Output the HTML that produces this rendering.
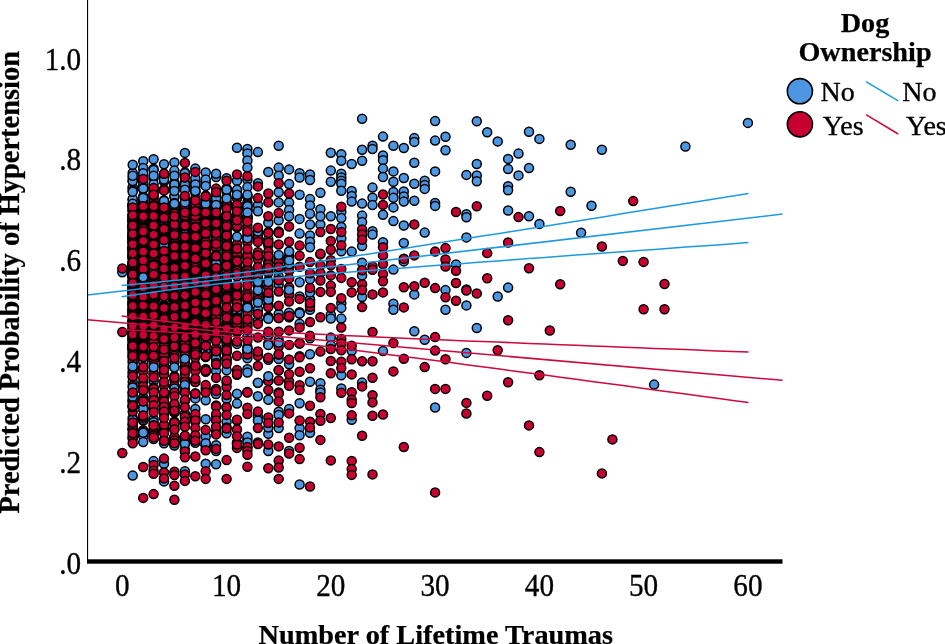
<!DOCTYPE html>
<html lang="en"><head><meta charset="utf-8"><title>Dog Ownership</title>
<style>
html,body{margin:0;padding:0;background:#fff;}
body{width:945px;height:644px;overflow:hidden;font-family:"Liberation Serif","Times New Roman",serif;}
svg{display:block;}
svg text{font-family:"Liberation Serif","Times New Roman",serif;fill:#000;stroke:#000;stroke-width:.35px;}
svg .b text,svg text.b{stroke-width:.25px;}
</style></head><body>
<svg width="945" height="644" viewBox="0 0 945 644">
<rect width="945" height="644" fill="#fff"/>
<g font-size="30.6"><text transform="translate(81.2,574.2) scale(0.955,1)" text-anchor="end">.0</text><text transform="translate(81.2,473.3) scale(0.955,1)" text-anchor="end">.2</text><text transform="translate(81.2,372.3) scale(0.955,1)" text-anchor="end">.4</text><text transform="translate(81.2,271.4) scale(0.955,1)" text-anchor="end">.6</text><text transform="translate(81.2,170.4) scale(0.955,1)" text-anchor="end">.8</text><text transform="translate(81.2,69.5) scale(0.955,1)" text-anchor="end">1.0</text><text transform="translate(122.3,595.5) scale(0.955,1)" text-anchor="middle">0</text><text transform="translate(226.6,595.5) scale(0.955,1)" text-anchor="middle">10</text><text transform="translate(330.8,595.5) scale(0.955,1)" text-anchor="middle">20</text><text transform="translate(435.1,595.5) scale(0.955,1)" text-anchor="middle">30</text><text transform="translate(539.4,595.5) scale(0.955,1)" text-anchor="middle">40</text><text transform="translate(643.6,595.5) scale(0.955,1)" text-anchor="middle">50</text><text transform="translate(747.9,595.5) scale(0.955,1)" text-anchor="middle">60</text></g>
<text transform="translate(18.9,282.3) rotate(-90)" text-anchor="middle" class="b" font-size="28.45" font-weight="bold">Predicted Probability of Hypertension</text>
<text x="435.8" y="643.5" text-anchor="middle" class="b" font-size="28.3" font-weight="bold">Number of Lifetime Traumas</text>
<g fill="#4d96e2" stroke="#000" stroke-width="1.5">
<g transform="translate(132.7)"><circle cy="437.7" r="4.5"/><circle cy="429.4" r="4.5"/><circle cy="400.7" r="4.5"/><circle cy="256.0" r="4.5"/><circle cy="276.4" r="4.5"/><circle cy="345.6" r="4.5"/><circle cy="258.5" r="4.5"/><circle cy="266.5" r="4.5"/><circle cy="281.6" r="4.5"/><circle cy="205.1" r="4.5"/><circle cy="267.3" r="4.5"/><circle cy="289.7" r="4.5"/><circle cy="320.7" r="4.5"/><circle cy="187.9" r="4.5"/><circle cy="227.6" r="4.5"/><circle cy="187.2" r="4.5"/><circle cy="323.8" r="4.5"/><circle cy="301.8" r="4.5"/><circle cy="178.0" r="4.5"/><circle cy="356.6" r="4.5"/><circle cy="353.3" r="4.5"/><circle cy="294.2" r="4.5"/><circle cy="287.0" r="4.5"/><circle cy="199.9" r="4.5"/><circle cy="172.9" r="4.5"/><circle cy="270.4" r="4.5"/><circle cy="181.3" r="4.5"/><circle cy="377.1" r="4.5"/><circle cy="381.8" r="4.5"/><circle cy="362.7" r="4.5"/><circle cy="401.8" r="4.5"/><circle cy="399.6" r="4.5"/><circle cy="435.8" r="4.5"/><circle cy="406.7" r="4.5"/><circle cy="417.6" r="4.5"/><circle cy="405.0" r="4.5"/><circle cy="419.6" r="4.5"/><circle cy="181.0" r="4.5"/><circle cy="199.0" r="4.5"/><circle cy="204.4" r="4.5" fill="#c80032"/><circle cy="204.7" r="4.5" fill="#c80032"/><circle cy="205.0" r="4.5"/><circle cy="206.1" r="4.5" fill="#c80032"/><circle cy="207.5" r="4.5" fill="#c80032"/><circle cy="210.0" r="4.5" fill="#c80032"/><circle cy="210.0" r="4.5" fill="#c80032"/><circle cy="211.8" r="4.5" fill="#c80032"/><circle cy="214.8" r="4.5" fill="#c80032"/><circle cy="214.9" r="4.5" fill="#c80032"/><circle cy="216.1" r="4.5" fill="#c80032"/><circle cy="216.1" r="4.5" fill="#c80032"/><circle cy="218.7" r="4.5" fill="#c80032"/><circle cy="218.8" r="4.5" fill="#c80032"/><circle cy="218.9" r="4.5"/><circle cy="220.1" r="4.5" fill="#c80032"/><circle cy="220.7" r="4.5" fill="#c80032"/><circle cy="220.9" r="4.5" fill="#c80032"/><circle cy="221.0" r="4.5" fill="#c80032"/><circle cy="221.1" r="4.5" fill="#c80032"/><circle cy="221.3" r="4.5" fill="#c80032"/><circle cy="224.0" r="4.5" fill="#c80032"/><circle cy="224.3" r="4.5" fill="#c80032"/><circle cy="224.5" r="4.5" fill="#c80032"/><circle cy="225.9" r="4.5" fill="#c80032"/><circle cy="226.0" r="4.5" fill="#c80032"/><circle cy="226.2" r="4.5" fill="#c80032"/><circle cy="227.3" r="4.5" fill="#c80032"/><circle cy="227.6" r="4.5"/><circle cy="227.7" r="4.5" fill="#c80032"/><circle cy="227.9" r="4.5" fill="#c80032"/><circle cy="228.3" r="4.5" fill="#c80032"/><circle cy="230.7" r="4.5" fill="#c80032"/><circle cy="231.4" r="4.5" fill="#c80032"/><circle cy="231.5" r="4.5" fill="#c80032"/><circle cy="233.4" r="4.5" fill="#c80032"/><circle cy="233.6" r="4.5" fill="#c80032"/><circle cy="234.6" r="4.5" fill="#c80032"/><circle cy="234.8" r="4.5" fill="#c80032"/><circle cy="236.4" r="4.5" fill="#c80032"/><circle cy="236.9" r="4.5"/><circle cy="236.9" r="4.5" fill="#c80032"/><circle cy="237.1" r="4.5" fill="#c80032"/><circle cy="237.3" r="4.5" fill="#c80032"/><circle cy="238.0" r="4.5" fill="#c80032"/><circle cy="238.2" r="4.5" fill="#c80032"/><circle cy="238.2" r="4.5" fill="#c80032"/><circle cy="238.9" r="4.5" fill="#c80032"/><circle cy="239.6" r="4.5" fill="#c80032"/><circle cy="241.5" r="4.5" fill="#c80032"/><circle cy="241.5" r="4.5" fill="#c80032"/><circle cy="242.0" r="4.5"/><circle cy="242.1" r="4.5" fill="#c80032"/><circle cy="242.8" r="4.5" fill="#c80032"/><circle cy="243.1" r="4.5" fill="#c80032"/><circle cy="246.2" r="4.5" fill="#c80032"/><circle cy="247.1" r="4.5" fill="#c80032"/><circle cy="247.2" r="4.5"/><circle cy="247.2" r="4.5" fill="#c80032"/><circle cy="248.1" r="4.5" fill="#c80032"/><circle cy="248.1" r="4.5" fill="#c80032"/><circle cy="248.6" r="4.5" fill="#c80032"/><circle cy="248.9" r="4.5" fill="#c80032"/><circle cy="249.0" r="4.5" fill="#c80032"/><circle cy="250.0" r="4.5" fill="#c80032"/><circle cy="251.1" r="4.5" fill="#c80032"/><circle cy="252.3" r="4.5" fill="#c80032"/><circle cy="252.6" r="4.5" fill="#c80032"/><circle cy="254.4" r="4.5" fill="#c80032"/><circle cy="254.8" r="4.5" fill="#c80032"/><circle cy="256.3" r="4.5" fill="#c80032"/><circle cy="257.1" r="4.5" fill="#c80032"/><circle cy="257.7" r="4.5" fill="#c80032"/><circle cy="257.8" r="4.5" fill="#c80032"/><circle cy="261.7" r="4.5" fill="#c80032"/><circle cy="262.7" r="4.5" fill="#c80032"/><circle cy="263.7" r="4.5" fill="#c80032"/><circle cy="264.1" r="4.5" fill="#c80032"/><circle cy="264.2" r="4.5" fill="#c80032"/><circle cy="264.2" r="4.5" fill="#c80032"/><circle cy="264.7" r="4.5" fill="#c80032"/><circle cy="265.7" r="4.5" fill="#c80032"/><circle cy="266.4" r="4.5" fill="#c80032"/><circle cy="266.6" r="4.5"/><circle cy="266.9" r="4.5" fill="#c80032"/><circle cy="267.1" r="4.5" fill="#c80032"/><circle cy="268.9" r="4.5" fill="#c80032"/><circle cy="269.3" r="4.5" fill="#c80032"/><circle cy="269.6" r="4.5" fill="#c80032"/><circle cy="269.8" r="4.5" fill="#c80032"/><circle cy="271.1" r="4.5" fill="#c80032"/><circle cy="272.7" r="4.5" fill="#c80032"/><circle cy="273.4" r="4.5" fill="#c80032"/><circle cy="273.5" r="4.5" fill="#c80032"/><circle cy="274.9" r="4.5" fill="#c80032"/><circle cy="275.8" r="4.5" fill="#c80032"/><circle cy="276.1" r="4.5" fill="#c80032"/><circle cy="276.5" r="4.5" fill="#c80032"/><circle cy="276.7" r="4.5" fill="#c80032"/><circle cy="277.5" r="4.5" fill="#c80032"/><circle cy="277.8" r="4.5" fill="#c80032"/><circle cy="280.9" r="4.5" fill="#c80032"/><circle cy="280.9" r="4.5"/><circle cy="282.5" r="4.5"/><circle cy="283.5" r="4.5" fill="#c80032"/><circle cy="283.7" r="4.5" fill="#c80032"/><circle cy="283.8" r="4.5" fill="#c80032"/><circle cy="284.2" r="4.5"/><circle cy="285.6" r="4.5" fill="#c80032"/><circle cy="285.7" r="4.5"/><circle cy="286.5" r="4.5" fill="#c80032"/><circle cy="287.2" r="4.5" fill="#c80032"/><circle cy="288.5" r="4.5" fill="#c80032"/><circle cy="289.4" r="4.5" fill="#c80032"/><circle cy="289.9" r="4.5" fill="#c80032"/><circle cy="289.9" r="4.5" fill="#c80032"/><circle cy="290.9" r="4.5" fill="#c80032"/><circle cy="291.1" r="4.5" fill="#c80032"/><circle cy="292.0" r="4.5" fill="#c80032"/><circle cy="292.8" r="4.5" fill="#c80032"/><circle cy="293.1" r="4.5" fill="#c80032"/><circle cy="295.0" r="4.5"/><circle cy="297.0" r="4.5" fill="#c80032"/><circle cy="297.1" r="4.5" fill="#c80032"/><circle cy="297.9" r="4.5" fill="#c80032"/><circle cy="298.3" r="4.5" fill="#c80032"/><circle cy="299.9" r="4.5" fill="#c80032"/><circle cy="302.1" r="4.5" fill="#c80032"/><circle cy="302.9" r="4.5" fill="#c80032"/><circle cy="303.9" r="4.5" fill="#c80032"/><circle cy="304.7" r="4.5" fill="#c80032"/><circle cy="304.9" r="4.5" fill="#c80032"/><circle cy="307.9" r="4.5" fill="#c80032"/><circle cy="308.5" r="4.5" fill="#c80032"/><circle cy="308.8" r="4.5" fill="#c80032"/><circle cy="310.3" r="4.5" fill="#c80032"/><circle cy="310.4" r="4.5" fill="#c80032"/><circle cy="311.0" r="4.5" fill="#c80032"/><circle cy="311.5" r="4.5"/><circle cy="312.8" r="4.5"/><circle cy="314.0" r="4.5" fill="#c80032"/><circle cy="314.3" r="4.5" fill="#c80032"/><circle cy="314.4" r="4.5" fill="#c80032"/><circle cy="315.0" r="4.5" fill="#c80032"/><circle cy="316.4" r="4.5" fill="#c80032"/><circle cy="318.6" r="4.5" fill="#c80032"/><circle cy="320.9" r="4.5"/><circle cy="321.1" r="4.5" fill="#c80032"/><circle cy="321.4" r="4.5" fill="#c80032"/><circle cy="322.2" r="4.5" fill="#c80032"/><circle cy="323.6" r="4.5" fill="#c80032"/><circle cy="323.9" r="4.5" fill="#c80032"/><circle cy="325.3" r="4.5" fill="#c80032"/><circle cy="325.5" r="4.5" fill="#c80032"/><circle cy="328.2" r="4.5" fill="#c80032"/><circle cy="328.8" r="4.5" fill="#c80032"/><circle cy="329.4" r="4.5" fill="#c80032"/><circle cy="330.1" r="4.5"/><circle cy="332.8" r="4.5" fill="#c80032"/><circle cy="333.2" r="4.5" fill="#c80032"/><circle cy="333.8" r="4.5" fill="#c80032"/><circle cy="334.7" r="4.5"/><circle cy="335.3" r="4.5" fill="#c80032"/><circle cy="337.8" r="4.5" fill="#c80032"/><circle cy="338.0" r="4.5" fill="#c80032"/><circle cy="338.1" r="4.5" fill="#c80032"/><circle cy="339.6" r="4.5" fill="#c80032"/><circle cy="340.2" r="4.5" fill="#c80032"/><circle cy="340.4" r="4.5" fill="#c80032"/><circle cy="342.7" r="4.5" fill="#c80032"/><circle cy="344.2" r="4.5"/><circle cy="344.5" r="4.5" fill="#c80032"/><circle cy="345.7" r="4.5" fill="#c80032"/><circle cy="346.2" r="4.5" fill="#c80032"/><circle cy="346.4" r="4.5" fill="#c80032"/><circle cy="346.5" r="4.5" fill="#c80032"/><circle cy="346.9" r="4.5" fill="#c80032"/><circle cy="347.8" r="4.5" fill="#c80032"/><circle cy="348.4" r="4.5" fill="#c80032"/><circle cy="349.3" r="4.5" fill="#c80032"/><circle cy="349.6" r="4.5" fill="#c80032"/><circle cy="351.0" r="4.5" fill="#c80032"/><circle cy="353.9" r="4.5" fill="#c80032"/><circle cy="357.4" r="4.5" fill="#c80032"/><circle cy="360.6" r="4.5" fill="#c80032"/><circle cy="368.5" r="4.5" fill="#c80032"/><circle cy="371.7" r="4.5" fill="#c80032"/><circle cy="373.7" r="4.5" fill="#c80032"/><circle cy="391.9" r="4.5" fill="#c80032"/><circle cy="394.2" r="4.5" fill="#c80032"/><circle cy="396.7" r="4.5"/><circle cy="411.6" r="4.5" fill="#c80032"/><circle cy="424.6" r="4.5" fill="#c80032"/><circle cy="428.9" r="4.5" fill="#c80032"/><circle cy="429.1" r="4.5" fill="#c80032"/><circle cy="438.6" r="4.5" fill="#c80032"/><circle cy="190.6" r="4.5" fill="#c80032"/><circle cy="274.4" r="4.5" fill="#c80032"/><circle cy="376.2" r="4.5" fill="#c80032"/><circle cy="206.0" r="4.5" fill="#c80032"/><circle cy="294.9" r="4.5" fill="#c80032"/><circle cy="407.0" r="4.5" fill="#c80032"/><circle cy="443.3" r="4.5" fill="#c80032"/><circle cy="366.4" r="4.5"/><circle cy="216.9" r="4.5" fill="#c80032"/><circle cy="356.0" r="4.5" fill="#c80032"/><circle cy="425.3" r="4.5" fill="#c80032"/><circle cy="334.6" r="4.5" fill="#c80032"/><circle cy="225.6" r="4.5" fill="#c80032"/><circle cy="346.0" r="4.5" fill="#c80032"/><circle cy="262.4" r="4.5" fill="#c80032"/><circle cy="385.6" r="4.5" fill="#c80032"/><circle cy="316.2" r="4.5" fill="#c80032"/><circle cy="306.1" r="4.5" fill="#c80032"/><circle cy="244.3" r="4.5" fill="#c80032"/><circle cy="326.1" r="4.5" fill="#c80032"/><circle cy="253.3" r="4.5" fill="#c80032"/><circle cy="234.1" r="4.5" fill="#c80032"/><circle cy="387.6" r="4.5"/><circle cy="283.1" r="4.5" fill="#c80032"/><circle cy="475.6" r="4.5"/><circle cy="164.8" r="4.5"/><circle cy="175.7" r="4.5"/><circle cy="191.7" r="4.5"/><circle cy="203.7" r="4.5"/><circle cy="392.5" r="4.5" fill="#c80032"/><circle cy="405.7" r="4.5" fill="#c80032"/><circle cy="422.5" r="4.5" fill="#c80032"/><circle cy="433.2" r="4.5" fill="#c80032"/><circle cy="207.5" r="4.5" fill="#c80032"/><circle cy="215.1" r="4.5" fill="#c80032"/></g>
<g transform="translate(143.2)"><circle cy="434.4" r="4.5"/><circle cy="420.5" r="4.5"/><circle cy="407.8" r="4.5"/><circle cy="397.6" r="4.5"/><circle cy="341.1" r="4.5"/><circle cy="175.6" r="4.5"/><circle cy="219.0" r="4.5"/><circle cy="352.5" r="4.5"/><circle cy="224.0" r="4.5"/><circle cy="207.9" r="4.5"/><circle cy="244.8" r="4.5"/><circle cy="201.3" r="4.5"/><circle cy="180.9" r="4.5"/><circle cy="265.9" r="4.5"/><circle cy="262.5" r="4.5"/><circle cy="207.4" r="4.5"/><circle cy="189.2" r="4.5"/><circle cy="242.7" r="4.5"/><circle cy="277.5" r="4.5"/><circle cy="188.3" r="4.5"/><circle cy="187.0" r="4.5"/><circle cy="212.0" r="4.5"/><circle cy="252.1" r="4.5"/><circle cy="263.9" r="4.5"/><circle cy="313.7" r="4.5"/><circle cy="291.7" r="4.5"/><circle cy="168.1" r="4.5"/><circle cy="216.2" r="4.5"/><circle cy="219.5" r="4.5"/><circle cy="390.7" r="4.5"/><circle cy="408.6" r="4.5"/><circle cy="397.4" r="4.5"/><circle cy="406.9" r="4.5"/><circle cy="436.2" r="4.5"/><circle cy="369.0" r="4.5"/><circle cy="400.0" r="4.5"/><circle cy="418.0" r="4.5"/><circle cy="409.4" r="4.5"/><circle cy="420.2" r="4.5"/><circle cy="184.8" r="4.5"/><circle cy="196.5" r="4.5"/><circle cy="204.8" r="4.5"/><circle cy="204.5" r="4.5" fill="#c80032"/><circle cy="205.2" r="4.5" fill="#c80032"/><circle cy="205.7" r="4.5" fill="#c80032"/><circle cy="206.1" r="4.5" fill="#c80032"/><circle cy="206.7" r="4.5" fill="#c80032"/><circle cy="206.9" r="4.5" fill="#c80032"/><circle cy="207.8" r="4.5" fill="#c80032"/><circle cy="207.8" r="4.5" fill="#c80032"/><circle cy="208.5" r="4.5" fill="#c80032"/><circle cy="208.9" r="4.5" fill="#c80032"/><circle cy="208.9" r="4.5" fill="#c80032"/><circle cy="209.3" r="4.5" fill="#c80032"/><circle cy="210.3" r="4.5" fill="#c80032"/><circle cy="211.5" r="4.5" fill="#c80032"/><circle cy="212.5" r="4.5" fill="#c80032"/><circle cy="213.6" r="4.5"/><circle cy="213.7" r="4.5" fill="#c80032"/><circle cy="215.5" r="4.5" fill="#c80032"/><circle cy="218.0" r="4.5" fill="#c80032"/><circle cy="218.9" r="4.5"/><circle cy="219.3" r="4.5"/><circle cy="220.9" r="4.5" fill="#c80032"/><circle cy="221.0" r="4.5" fill="#c80032"/><circle cy="221.1" r="4.5" fill="#c80032"/><circle cy="221.8" r="4.5" fill="#c80032"/><circle cy="222.7" r="4.5" fill="#c80032"/><circle cy="223.7" r="4.5" fill="#c80032"/><circle cy="223.9" r="4.5" fill="#c80032"/><circle cy="224.0" r="4.5" fill="#c80032"/><circle cy="224.5" r="4.5" fill="#c80032"/><circle cy="225.0" r="4.5" fill="#c80032"/><circle cy="225.3" r="4.5" fill="#c80032"/><circle cy="226.3" r="4.5" fill="#c80032"/><circle cy="226.4" r="4.5" fill="#c80032"/><circle cy="226.7" r="4.5" fill="#c80032"/><circle cy="227.2" r="4.5" fill="#c80032"/><circle cy="227.4" r="4.5" fill="#c80032"/><circle cy="228.1" r="4.5"/><circle cy="228.3" r="4.5"/><circle cy="228.4" r="4.5" fill="#c80032"/><circle cy="228.6" r="4.5" fill="#c80032"/><circle cy="230.5" r="4.5" fill="#c80032"/><circle cy="230.7" r="4.5" fill="#c80032"/><circle cy="231.2" r="4.5" fill="#c80032"/><circle cy="231.5" r="4.5" fill="#c80032"/><circle cy="231.6" r="4.5" fill="#c80032"/><circle cy="232.9" r="4.5" fill="#c80032"/><circle cy="234.2" r="4.5" fill="#c80032"/><circle cy="235.4" r="4.5" fill="#c80032"/><circle cy="236.4" r="4.5" fill="#c80032"/><circle cy="236.5" r="4.5" fill="#c80032"/><circle cy="237.9" r="4.5" fill="#c80032"/><circle cy="238.2" r="4.5" fill="#c80032"/><circle cy="239.5" r="4.5" fill="#c80032"/><circle cy="240.4" r="4.5" fill="#c80032"/><circle cy="240.8" r="4.5" fill="#c80032"/><circle cy="241.4" r="4.5" fill="#c80032"/><circle cy="242.1" r="4.5" fill="#c80032"/><circle cy="242.6" r="4.5" fill="#c80032"/><circle cy="242.6" r="4.5" fill="#c80032"/><circle cy="244.4" r="4.5" fill="#c80032"/><circle cy="245.3" r="4.5" fill="#c80032"/><circle cy="246.4" r="4.5" fill="#c80032"/><circle cy="248.1" r="4.5" fill="#c80032"/><circle cy="248.9" r="4.5" fill="#c80032"/><circle cy="250.7" r="4.5" fill="#c80032"/><circle cy="251.2" r="4.5" fill="#c80032"/><circle cy="253.0" r="4.5" fill="#c80032"/><circle cy="253.2" r="4.5" fill="#c80032"/><circle cy="257.0" r="4.5" fill="#c80032"/><circle cy="257.2" r="4.5" fill="#c80032"/><circle cy="258.2" r="4.5" fill="#c80032"/><circle cy="258.2" r="4.5" fill="#c80032"/><circle cy="258.3" r="4.5" fill="#c80032"/><circle cy="258.9" r="4.5" fill="#c80032"/><circle cy="260.0" r="4.5" fill="#c80032"/><circle cy="260.3" r="4.5" fill="#c80032"/><circle cy="261.0" r="4.5" fill="#c80032"/><circle cy="261.1" r="4.5" fill="#c80032"/><circle cy="262.6" r="4.5" fill="#c80032"/><circle cy="262.8" r="4.5"/><circle cy="262.9" r="4.5" fill="#c80032"/><circle cy="262.9" r="4.5" fill="#c80032"/><circle cy="263.4" r="4.5" fill="#c80032"/><circle cy="263.6" r="4.5" fill="#c80032"/><circle cy="264.0" r="4.5" fill="#c80032"/><circle cy="264.0" r="4.5" fill="#c80032"/><circle cy="264.1" r="4.5" fill="#c80032"/><circle cy="264.1" r="4.5" fill="#c80032"/><circle cy="264.6" r="4.5" fill="#c80032"/><circle cy="265.1" r="4.5" fill="#c80032"/><circle cy="265.4" r="4.5" fill="#c80032"/><circle cy="265.7" r="4.5" fill="#c80032"/><circle cy="266.0" r="4.5" fill="#c80032"/><circle cy="266.6" r="4.5" fill="#c80032"/><circle cy="266.6" r="4.5" fill="#c80032"/><circle cy="266.6" r="4.5" fill="#c80032"/><circle cy="269.9" r="4.5" fill="#c80032"/><circle cy="269.9" r="4.5" fill="#c80032"/><circle cy="270.0" r="4.5" fill="#c80032"/><circle cy="270.6" r="4.5"/><circle cy="270.9" r="4.5"/><circle cy="271.0" r="4.5" fill="#c80032"/><circle cy="272.9" r="4.5" fill="#c80032"/><circle cy="273.1" r="4.5" fill="#c80032"/><circle cy="273.9" r="4.5" fill="#c80032"/><circle cy="274.3" r="4.5" fill="#c80032"/><circle cy="274.6" r="4.5" fill="#c80032"/><circle cy="275.1" r="4.5" fill="#c80032"/><circle cy="275.3" r="4.5" fill="#c80032"/><circle cy="277.3" r="4.5" fill="#c80032"/><circle cy="278.4" r="4.5"/><circle cy="278.9" r="4.5" fill="#c80032"/><circle cy="279.1" r="4.5" fill="#c80032"/><circle cy="279.5" r="4.5" fill="#c80032"/><circle cy="280.2" r="4.5" fill="#c80032"/><circle cy="280.7" r="4.5" fill="#c80032"/><circle cy="282.5" r="4.5" fill="#c80032"/><circle cy="284.3" r="4.5" fill="#c80032"/><circle cy="285.1" r="4.5" fill="#c80032"/><circle cy="285.7" r="4.5" fill="#c80032"/><circle cy="286.2" r="4.5" fill="#c80032"/><circle cy="288.6" r="4.5" fill="#c80032"/><circle cy="289.7" r="4.5"/><circle cy="291.3" r="4.5" fill="#c80032"/><circle cy="291.5" r="4.5" fill="#c80032"/><circle cy="292.7" r="4.5" fill="#c80032"/><circle cy="293.9" r="4.5" fill="#c80032"/><circle cy="295.1" r="4.5"/><circle cy="297.1" r="4.5" fill="#c80032"/><circle cy="298.7" r="4.5" fill="#c80032"/><circle cy="299.1" r="4.5" fill="#c80032"/><circle cy="299.6" r="4.5" fill="#c80032"/><circle cy="300.0" r="4.5" fill="#c80032"/><circle cy="300.1" r="4.5" fill="#c80032"/><circle cy="301.4" r="4.5" fill="#c80032"/><circle cy="302.4" r="4.5" fill="#c80032"/><circle cy="303.0" r="4.5"/><circle cy="303.6" r="4.5" fill="#c80032"/><circle cy="303.8" r="4.5" fill="#c80032"/><circle cy="303.9" r="4.5" fill="#c80032"/><circle cy="304.3" r="4.5" fill="#c80032"/><circle cy="304.8" r="4.5" fill="#c80032"/><circle cy="305.7" r="4.5"/><circle cy="306.8" r="4.5" fill="#c80032"/><circle cy="307.4" r="4.5"/><circle cy="307.5" r="4.5" fill="#c80032"/><circle cy="308.4" r="4.5" fill="#c80032"/><circle cy="308.8" r="4.5"/><circle cy="309.3" r="4.5" fill="#c80032"/><circle cy="311.5" r="4.5" fill="#c80032"/><circle cy="311.8" r="4.5" fill="#c80032"/><circle cy="312.4" r="4.5" fill="#c80032"/><circle cy="313.3" r="4.5"/><circle cy="313.3" r="4.5" fill="#c80032"/><circle cy="314.2" r="4.5" fill="#c80032"/><circle cy="315.2" r="4.5" fill="#c80032"/><circle cy="315.3" r="4.5" fill="#c80032"/><circle cy="316.9" r="4.5" fill="#c80032"/><circle cy="317.4" r="4.5" fill="#c80032"/><circle cy="317.5" r="4.5" fill="#c80032"/><circle cy="318.9" r="4.5" fill="#c80032"/><circle cy="319.9" r="4.5" fill="#c80032"/><circle cy="320.0" r="4.5" fill="#c80032"/><circle cy="322.2" r="4.5" fill="#c80032"/><circle cy="324.6" r="4.5" fill="#c80032"/><circle cy="325.2" r="4.5"/><circle cy="325.3" r="4.5" fill="#c80032"/><circle cy="325.4" r="4.5" fill="#c80032"/><circle cy="325.7" r="4.5" fill="#c80032"/><circle cy="326.5" r="4.5" fill="#c80032"/><circle cy="326.8" r="4.5"/><circle cy="327.6" r="4.5" fill="#c80032"/><circle cy="328.3" r="4.5" fill="#c80032"/><circle cy="328.5" r="4.5"/><circle cy="329.0" r="4.5" fill="#c80032"/><circle cy="329.1" r="4.5"/><circle cy="332.4" r="4.5" fill="#c80032"/><circle cy="333.6" r="4.5" fill="#c80032"/><circle cy="334.9" r="4.5" fill="#c80032"/><circle cy="335.0" r="4.5" fill="#c80032"/><circle cy="335.1" r="4.5" fill="#c80032"/><circle cy="335.6" r="4.5" fill="#c80032"/><circle cy="336.4" r="4.5" fill="#c80032"/><circle cy="337.2" r="4.5" fill="#c80032"/><circle cy="338.5" r="4.5" fill="#c80032"/><circle cy="342.1" r="4.5" fill="#c80032"/><circle cy="342.4" r="4.5" fill="#c80032"/><circle cy="342.8" r="4.5" fill="#c80032"/><circle cy="343.6" r="4.5" fill="#c80032"/><circle cy="344.0" r="4.5" fill="#c80032"/><circle cy="344.1" r="4.5" fill="#c80032"/><circle cy="344.4" r="4.5" fill="#c80032"/><circle cy="344.8" r="4.5" fill="#c80032"/><circle cy="345.8" r="4.5" fill="#c80032"/><circle cy="346.8" r="4.5" fill="#c80032"/><circle cy="350.1" r="4.5" fill="#c80032"/><circle cy="351.8" r="4.5" fill="#c80032"/><circle cy="353.1" r="4.5"/><circle cy="354.9" r="4.5" fill="#c80032"/><circle cy="355.2" r="4.5" fill="#c80032"/><circle cy="356.3" r="4.5" fill="#c80032"/><circle cy="356.5" r="4.5" fill="#c80032"/><circle cy="357.2" r="4.5" fill="#c80032"/><circle cy="358.6" r="4.5" fill="#c80032"/><circle cy="359.3" r="4.5" fill="#c80032"/><circle cy="361.6" r="4.5"/><circle cy="371.4" r="4.5" fill="#c80032"/><circle cy="382.8" r="4.5" fill="#c80032"/><circle cy="386.2" r="4.5" fill="#c80032"/><circle cy="408.8" r="4.5"/><circle cy="418.4" r="4.5" fill="#c80032"/><circle cy="430.3" r="4.5" fill="#c80032"/><circle cy="431.8" r="4.5" fill="#c80032"/><circle cy="188.1" r="4.5" fill="#c80032"/><circle cy="432.7" r="4.5"/><circle cy="378.0" r="4.5" fill="#c80032"/><circle cy="316.4" r="4.5" fill="#c80032"/><circle cy="367.0" r="4.5" fill="#c80032"/><circle cy="346.7" r="4.5" fill="#c80032"/><circle cy="251.6" r="4.5" fill="#c80032"/><circle cy="390.2" r="4.5" fill="#c80032"/><circle cy="260.6" r="4.5" fill="#c80032"/><circle cy="416.4" r="4.5" fill="#c80032"/><circle cy="206.1" r="4.5" fill="#c80032"/><circle cy="269.1" r="4.5" fill="#c80032"/><circle cy="287.5" r="4.5" fill="#c80032"/><circle cy="240.9" r="4.5" fill="#c80032"/><circle cy="357.1" r="4.5" fill="#c80032"/><circle cy="218.1" r="4.5" fill="#c80032"/><circle cy="277.9" r="4.5" fill="#c80032"/><circle cy="229.2" r="4.5" fill="#c80032"/><circle cy="296.8" r="4.5" fill="#c80032"/><circle cy="305.4" r="4.5" fill="#c80032"/><circle cy="277.2" r="4.5"/><circle cy="326.3" r="4.5" fill="#c80032"/><circle cy="335.0" r="4.5" fill="#c80032"/><circle cy="401.1" r="4.5" fill="#c80032"/><circle cy="442.1" r="4.5"/><circle cy="161.2" r="4.5"/><circle cy="168.1" r="4.5"/><circle cy="173.2" r="4.5"/><circle cy="188.4" r="4.5"/><circle cy="198.1" r="4.5"/><circle cy="467.0" r="4.5" fill="#c80032"/><circle cy="497.9" r="4.5" fill="#c80032"/><circle cy="401.4" r="4.5" fill="#c80032"/><circle cy="415.4" r="4.5" fill="#c80032"/><circle cy="179.0" r="4.5" fill="#c80032"/><circle cy="206.2" r="4.5" fill="#c80032"/><circle cy="216.3" r="4.5" fill="#c80032"/><circle cy="231.6" r="4.5" fill="#c80032"/></g>
<g transform="translate(153.6)"><circle cy="431.9" r="4.5"/><circle cy="419.2" r="4.5"/><circle cy="336.4" r="4.5"/><circle cy="359.9" r="4.5"/><circle cy="307.2" r="4.5"/><circle cy="334.8" r="4.5"/><circle cy="236.3" r="4.5"/><circle cy="271.0" r="4.5"/><circle cy="274.5" r="4.5"/><circle cy="196.2" r="4.5"/><circle cy="291.3" r="4.5"/><circle cy="246.6" r="4.5"/><circle cy="188.0" r="4.5"/><circle cy="178.1" r="4.5"/><circle cy="265.8" r="4.5"/><circle cy="189.5" r="4.5"/><circle cy="336.9" r="4.5"/><circle cy="276.9" r="4.5"/><circle cy="252.8" r="4.5"/><circle cy="222.0" r="4.5"/><circle cy="306.7" r="4.5"/><circle cy="168.7" r="4.5"/><circle cy="197.7" r="4.5"/><circle cy="250.4" r="4.5"/><circle cy="252.2" r="4.5"/><circle cy="268.0" r="4.5"/><circle cy="191.7" r="4.5"/><circle cy="422.3" r="4.5"/><circle cy="380.8" r="4.5"/><circle cy="387.6" r="4.5"/><circle cy="400.9" r="4.5"/><circle cy="388.2" r="4.5"/><circle cy="389.2" r="4.5"/><circle cy="372.9" r="4.5"/><circle cy="429.9" r="4.5"/><circle cy="429.9" r="4.5"/><circle cy="439.1" r="4.5"/><circle cy="184.1" r="4.5"/><circle cy="194.2" r="4.5"/><circle cy="200.6" r="4.5"/><circle cy="204.5" r="4.5" fill="#c80032"/><circle cy="204.5" r="4.5" fill="#c80032"/><circle cy="205.4" r="4.5" fill="#c80032"/><circle cy="206.0" r="4.5" fill="#c80032"/><circle cy="208.3" r="4.5" fill="#c80032"/><circle cy="209.1" r="4.5" fill="#c80032"/><circle cy="210.4" r="4.5" fill="#c80032"/><circle cy="210.7" r="4.5" fill="#c80032"/><circle cy="212.3" r="4.5" fill="#c80032"/><circle cy="214.7" r="4.5" fill="#c80032"/><circle cy="215.1" r="4.5" fill="#c80032"/><circle cy="216.7" r="4.5" fill="#c80032"/><circle cy="217.6" r="4.5" fill="#c80032"/><circle cy="218.5" r="4.5" fill="#c80032"/><circle cy="218.8" r="4.5" fill="#c80032"/><circle cy="220.1" r="4.5" fill="#c80032"/><circle cy="220.2" r="4.5" fill="#c80032"/><circle cy="223.1" r="4.5" fill="#c80032"/><circle cy="223.2" r="4.5" fill="#c80032"/><circle cy="223.3" r="4.5" fill="#c80032"/><circle cy="223.8" r="4.5"/><circle cy="225.7" r="4.5"/><circle cy="227.6" r="4.5"/><circle cy="228.2" r="4.5" fill="#c80032"/><circle cy="228.7" r="4.5" fill="#c80032"/><circle cy="228.8" r="4.5" fill="#c80032"/><circle cy="229.0" r="4.5" fill="#c80032"/><circle cy="230.0" r="4.5"/><circle cy="231.2" r="4.5" fill="#c80032"/><circle cy="232.9" r="4.5" fill="#c80032"/><circle cy="234.8" r="4.5" fill="#c80032"/><circle cy="234.8" r="4.5" fill="#c80032"/><circle cy="234.9" r="4.5"/><circle cy="236.0" r="4.5" fill="#c80032"/><circle cy="236.3" r="4.5" fill="#c80032"/><circle cy="236.4" r="4.5" fill="#c80032"/><circle cy="237.7" r="4.5" fill="#c80032"/><circle cy="240.9" r="4.5" fill="#c80032"/><circle cy="241.5" r="4.5" fill="#c80032"/><circle cy="242.6" r="4.5"/><circle cy="243.0" r="4.5" fill="#c80032"/><circle cy="243.6" r="4.5" fill="#c80032"/><circle cy="244.6" r="4.5" fill="#c80032"/><circle cy="244.8" r="4.5" fill="#c80032"/><circle cy="246.3" r="4.5" fill="#c80032"/><circle cy="246.5" r="4.5" fill="#c80032"/><circle cy="249.3" r="4.5"/><circle cy="249.7" r="4.5" fill="#c80032"/><circle cy="250.0" r="4.5" fill="#c80032"/><circle cy="250.7" r="4.5" fill="#c80032"/><circle cy="251.3" r="4.5" fill="#c80032"/><circle cy="252.8" r="4.5"/><circle cy="252.9" r="4.5" fill="#c80032"/><circle cy="253.7" r="4.5" fill="#c80032"/><circle cy="254.6" r="4.5" fill="#c80032"/><circle cy="254.7" r="4.5" fill="#c80032"/><circle cy="255.6" r="4.5" fill="#c80032"/><circle cy="256.6" r="4.5" fill="#c80032"/><circle cy="257.7" r="4.5" fill="#c80032"/><circle cy="258.6" r="4.5" fill="#c80032"/><circle cy="258.9" r="4.5" fill="#c80032"/><circle cy="259.4" r="4.5" fill="#c80032"/><circle cy="260.1" r="4.5" fill="#c80032"/><circle cy="260.4" r="4.5" fill="#c80032"/><circle cy="261.4" r="4.5" fill="#c80032"/><circle cy="263.8" r="4.5" fill="#c80032"/><circle cy="264.9" r="4.5" fill="#c80032"/><circle cy="265.0" r="4.5" fill="#c80032"/><circle cy="265.5" r="4.5" fill="#c80032"/><circle cy="265.5" r="4.5" fill="#c80032"/><circle cy="266.1" r="4.5"/><circle cy="266.7" r="4.5" fill="#c80032"/><circle cy="268.9" r="4.5" fill="#c80032"/><circle cy="269.7" r="4.5" fill="#c80032"/><circle cy="272.6" r="4.5" fill="#c80032"/><circle cy="272.9" r="4.5"/><circle cy="274.4" r="4.5" fill="#c80032"/><circle cy="274.4" r="4.5" fill="#c80032"/><circle cy="274.7" r="4.5" fill="#c80032"/><circle cy="276.7" r="4.5" fill="#c80032"/><circle cy="276.8" r="4.5" fill="#c80032"/><circle cy="280.9" r="4.5" fill="#c80032"/><circle cy="281.5" r="4.5" fill="#c80032"/><circle cy="283.2" r="4.5" fill="#c80032"/><circle cy="283.3" r="4.5" fill="#c80032"/><circle cy="285.4" r="4.5" fill="#c80032"/><circle cy="285.8" r="4.5"/><circle cy="286.2" r="4.5" fill="#c80032"/><circle cy="287.4" r="4.5" fill="#c80032"/><circle cy="287.9" r="4.5" fill="#c80032"/><circle cy="288.6" r="4.5" fill="#c80032"/><circle cy="289.1" r="4.5" fill="#c80032"/><circle cy="289.9" r="4.5" fill="#c80032"/><circle cy="290.4" r="4.5" fill="#c80032"/><circle cy="290.8" r="4.5"/><circle cy="291.0" r="4.5" fill="#c80032"/><circle cy="291.8" r="4.5" fill="#c80032"/><circle cy="292.8" r="4.5" fill="#c80032"/><circle cy="293.5" r="4.5" fill="#c80032"/><circle cy="293.7" r="4.5"/><circle cy="293.7" r="4.5" fill="#c80032"/><circle cy="294.9" r="4.5" fill="#c80032"/><circle cy="295.1" r="4.5" fill="#c80032"/><circle cy="295.2" r="4.5" fill="#c80032"/><circle cy="296.6" r="4.5" fill="#c80032"/><circle cy="298.1" r="4.5" fill="#c80032"/><circle cy="298.3" r="4.5" fill="#c80032"/><circle cy="299.1" r="4.5" fill="#c80032"/><circle cy="299.9" r="4.5" fill="#c80032"/><circle cy="300.0" r="4.5" fill="#c80032"/><circle cy="300.1" r="4.5" fill="#c80032"/><circle cy="300.5" r="4.5" fill="#c80032"/><circle cy="301.4" r="4.5" fill="#c80032"/><circle cy="302.1" r="4.5" fill="#c80032"/><circle cy="302.5" r="4.5" fill="#c80032"/><circle cy="304.1" r="4.5" fill="#c80032"/><circle cy="304.7" r="4.5" fill="#c80032"/><circle cy="304.8" r="4.5" fill="#c80032"/><circle cy="305.2" r="4.5"/><circle cy="305.5" r="4.5" fill="#c80032"/><circle cy="305.7" r="4.5" fill="#c80032"/><circle cy="306.7" r="4.5" fill="#c80032"/><circle cy="306.7" r="4.5" fill="#c80032"/><circle cy="307.8" r="4.5" fill="#c80032"/><circle cy="307.8" r="4.5" fill="#c80032"/><circle cy="308.5" r="4.5" fill="#c80032"/><circle cy="308.6" r="4.5" fill="#c80032"/><circle cy="308.9" r="4.5" fill="#c80032"/><circle cy="309.1" r="4.5" fill="#c80032"/><circle cy="309.2" r="4.5" fill="#c80032"/><circle cy="309.8" r="4.5" fill="#c80032"/><circle cy="310.0" r="4.5" fill="#c80032"/><circle cy="310.2" r="4.5" fill="#c80032"/><circle cy="310.4" r="4.5" fill="#c80032"/><circle cy="310.7" r="4.5" fill="#c80032"/><circle cy="311.3" r="4.5" fill="#c80032"/><circle cy="313.1" r="4.5" fill="#c80032"/><circle cy="313.6" r="4.5" fill="#c80032"/><circle cy="315.1" r="4.5" fill="#c80032"/><circle cy="317.0" r="4.5" fill="#c80032"/><circle cy="317.1" r="4.5" fill="#c80032"/><circle cy="319.0" r="4.5" fill="#c80032"/><circle cy="319.3" r="4.5" fill="#c80032"/><circle cy="319.6" r="4.5" fill="#c80032"/><circle cy="321.3" r="4.5"/><circle cy="321.3" r="4.5" fill="#c80032"/><circle cy="321.6" r="4.5" fill="#c80032"/><circle cy="322.9" r="4.5" fill="#c80032"/><circle cy="323.7" r="4.5" fill="#c80032"/><circle cy="324.1" r="4.5" fill="#c80032"/><circle cy="324.1" r="4.5" fill="#c80032"/><circle cy="324.3" r="4.5"/><circle cy="324.3" r="4.5" fill="#c80032"/><circle cy="325.0" r="4.5"/><circle cy="325.1" r="4.5" fill="#c80032"/><circle cy="325.6" r="4.5" fill="#c80032"/><circle cy="325.9" r="4.5" fill="#c80032"/><circle cy="326.8" r="4.5" fill="#c80032"/><circle cy="327.3" r="4.5" fill="#c80032"/><circle cy="327.4" r="4.5" fill="#c80032"/><circle cy="327.6" r="4.5" fill="#c80032"/><circle cy="327.8" r="4.5" fill="#c80032"/><circle cy="329.8" r="4.5" fill="#c80032"/><circle cy="329.8" r="4.5" fill="#c80032"/><circle cy="331.3" r="4.5" fill="#c80032"/><circle cy="331.3" r="4.5" fill="#c80032"/><circle cy="333.0" r="4.5" fill="#c80032"/><circle cy="334.2" r="4.5" fill="#c80032"/><circle cy="334.3" r="4.5"/><circle cy="335.5" r="4.5" fill="#c80032"/><circle cy="335.9" r="4.5" fill="#c80032"/><circle cy="336.1" r="4.5" fill="#c80032"/><circle cy="336.4" r="4.5" fill="#c80032"/><circle cy="337.7" r="4.5" fill="#c80032"/><circle cy="338.2" r="4.5" fill="#c80032"/><circle cy="339.1" r="4.5" fill="#c80032"/><circle cy="340.0" r="4.5" fill="#c80032"/><circle cy="341.2" r="4.5" fill="#c80032"/><circle cy="342.4" r="4.5" fill="#c80032"/><circle cy="346.9" r="4.5" fill="#c80032"/><circle cy="349.5" r="4.5" fill="#c80032"/><circle cy="352.1" r="4.5" fill="#c80032"/><circle cy="353.9" r="4.5"/><circle cy="355.7" r="4.5" fill="#c80032"/><circle cy="357.0" r="4.5" fill="#c80032"/><circle cy="358.2" r="4.5" fill="#c80032"/><circle cy="361.2" r="4.5" fill="#c80032"/><circle cy="365.0" r="4.5" fill="#c80032"/><circle cy="374.5" r="4.5" fill="#c80032"/><circle cy="390.7" r="4.5" fill="#c80032"/><circle cy="397.6" r="4.5" fill="#c80032"/><circle cy="431.8" r="4.5" fill="#c80032"/><circle cy="432.9" r="4.5" fill="#c80032"/><circle cy="435.5" r="4.5" fill="#c80032"/><circle cy="437.4" r="4.5" fill="#c80032"/><circle cy="202.3" r="4.5" fill="#c80032"/><circle cy="271.6" r="4.5"/><circle cy="367.2" r="4.5"/><circle cy="425.3" r="4.5"/><circle cy="265.5" r="4.5" fill="#c80032"/><circle cy="294.8" r="4.5" fill="#c80032"/><circle cy="225.5" r="4.5" fill="#c80032"/><circle cy="315.2" r="4.5" fill="#c80032"/><circle cy="335.9" r="4.5" fill="#c80032"/><circle cy="346.9" r="4.5" fill="#c80032"/><circle cy="204.9" r="4.5" fill="#c80032"/><circle cy="377.5" r="4.5" fill="#c80032"/><circle cy="253.5" r="4.5" fill="#c80032"/><circle cy="234.8" r="4.5" fill="#c80032"/><circle cy="355.8" r="4.5" fill="#c80032"/><circle cy="216.1" r="4.5" fill="#c80032"/><circle cy="274.6" r="4.5" fill="#c80032"/><circle cy="306.2" r="4.5" fill="#c80032"/><circle cy="409.0" r="4.5" fill="#c80032"/><circle cy="325.2" r="4.5" fill="#c80032"/><circle cy="284.9" r="4.5" fill="#c80032"/><circle cy="244.6" r="4.5" fill="#c80032"/><circle cy="388.7" r="4.5" fill="#c80032"/><circle cy="461.1" r="4.5"/><circle cy="159.2" r="4.5"/><circle cy="170.1" r="4.5"/><circle cy="175.7" r="4.5"/><circle cy="494.1" r="4.5" fill="#c80032"/><circle cy="464.9" r="4.5" fill="#c80032"/><circle cy="470.8" r="4.5" fill="#c80032"/><circle cy="473.8" r="4.5" fill="#c80032"/><circle cy="392.5" r="4.5" fill="#c80032"/><circle cy="400.2" r="4.5" fill="#c80032"/><circle cy="405.2" r="4.5" fill="#c80032"/><circle cy="412.3" r="4.5" fill="#c80032"/><circle cy="425.6" r="4.5" fill="#c80032"/><circle cy="187.9" r="4.5" fill="#c80032"/><circle cy="194.8" r="4.5" fill="#c80032"/><circle cy="206.2" r="4.5" fill="#c80032"/></g>
<g transform="translate(164.0)"><circle cy="425.6" r="4.5"/><circle cy="405.2" r="4.5"/><circle cy="398.9" r="4.5"/><circle cy="319.7" r="4.5"/><circle cy="358.4" r="4.5"/><circle cy="247.0" r="4.5"/><circle cy="175.1" r="4.5"/><circle cy="236.1" r="4.5"/><circle cy="275.9" r="4.5"/><circle cy="275.5" r="4.5"/><circle cy="210.1" r="4.5"/><circle cy="286.8" r="4.5"/><circle cy="327.0" r="4.5"/><circle cy="217.2" r="4.5"/><circle cy="205.0" r="4.5"/><circle cy="224.5" r="4.5"/><circle cy="216.7" r="4.5"/><circle cy="322.8" r="4.5"/><circle cy="278.1" r="4.5"/><circle cy="348.7" r="4.5"/><circle cy="178.0" r="4.5"/><circle cy="332.7" r="4.5"/><circle cy="349.4" r="4.5"/><circle cy="272.0" r="4.5"/><circle cy="297.9" r="4.5"/><circle cy="220.8" r="4.5"/><circle cy="173.6" r="4.5"/><circle cy="410.0" r="4.5"/><circle cy="365.7" r="4.5"/><circle cy="401.9" r="4.5"/><circle cy="439.8" r="4.5"/><circle cy="365.7" r="4.5"/><circle cy="392.8" r="4.5"/><circle cy="429.0" r="4.5"/><circle cy="383.8" r="4.5"/><circle cy="382.1" r="4.5"/><circle cy="443.2" r="4.5"/><circle cy="181.4" r="4.5"/><circle cy="190.6" r="4.5"/><circle cy="200.6" r="4.5"/><circle cy="204.1" r="4.5" fill="#c80032"/><circle cy="204.6" r="4.5" fill="#c80032"/><circle cy="205.0" r="4.5" fill="#c80032"/><circle cy="205.8" r="4.5"/><circle cy="205.9" r="4.5" fill="#c80032"/><circle cy="206.9" r="4.5" fill="#c80032"/><circle cy="207.1" r="4.5" fill="#c80032"/><circle cy="207.9" r="4.5" fill="#c80032"/><circle cy="208.2" r="4.5"/><circle cy="209.0" r="4.5" fill="#c80032"/><circle cy="209.2" r="4.5" fill="#c80032"/><circle cy="209.4" r="4.5"/><circle cy="209.5" r="4.5" fill="#c80032"/><circle cy="209.7" r="4.5" fill="#c80032"/><circle cy="209.8" r="4.5" fill="#c80032"/><circle cy="210.0" r="4.5"/><circle cy="210.4" r="4.5"/><circle cy="210.4" r="4.5" fill="#c80032"/><circle cy="211.8" r="4.5" fill="#c80032"/><circle cy="211.9" r="4.5" fill="#c80032"/><circle cy="211.9" r="4.5" fill="#c80032"/><circle cy="212.6" r="4.5" fill="#c80032"/><circle cy="213.1" r="4.5" fill="#c80032"/><circle cy="213.6" r="4.5" fill="#c80032"/><circle cy="215.3" r="4.5" fill="#c80032"/><circle cy="215.3" r="4.5" fill="#c80032"/><circle cy="217.3" r="4.5" fill="#c80032"/><circle cy="218.4" r="4.5" fill="#c80032"/><circle cy="218.5" r="4.5" fill="#c80032"/><circle cy="219.3" r="4.5" fill="#c80032"/><circle cy="219.3" r="4.5" fill="#c80032"/><circle cy="219.7" r="4.5" fill="#c80032"/><circle cy="220.6" r="4.5" fill="#c80032"/><circle cy="223.3" r="4.5" fill="#c80032"/><circle cy="223.4" r="4.5" fill="#c80032"/><circle cy="224.5" r="4.5" fill="#c80032"/><circle cy="224.9" r="4.5" fill="#c80032"/><circle cy="225.5" r="4.5" fill="#c80032"/><circle cy="226.1" r="4.5"/><circle cy="228.0" r="4.5" fill="#c80032"/><circle cy="228.5" r="4.5" fill="#c80032"/><circle cy="228.5" r="4.5"/><circle cy="228.8" r="4.5" fill="#c80032"/><circle cy="229.1" r="4.5" fill="#c80032"/><circle cy="229.9" r="4.5" fill="#c80032"/><circle cy="230.4" r="4.5" fill="#c80032"/><circle cy="230.4" r="4.5" fill="#c80032"/><circle cy="231.5" r="4.5" fill="#c80032"/><circle cy="231.6" r="4.5" fill="#c80032"/><circle cy="233.5" r="4.5" fill="#c80032"/><circle cy="233.7" r="4.5"/><circle cy="233.7" r="4.5" fill="#c80032"/><circle cy="234.0" r="4.5" fill="#c80032"/><circle cy="234.0" r="4.5" fill="#c80032"/><circle cy="234.6" r="4.5" fill="#c80032"/><circle cy="234.8" r="4.5"/><circle cy="235.2" r="4.5" fill="#c80032"/><circle cy="237.7" r="4.5" fill="#c80032"/><circle cy="237.8" r="4.5" fill="#c80032"/><circle cy="238.9" r="4.5" fill="#c80032"/><circle cy="238.9" r="4.5" fill="#c80032"/><circle cy="239.0" r="4.5" fill="#c80032"/><circle cy="241.7" r="4.5"/><circle cy="243.9" r="4.5" fill="#c80032"/><circle cy="244.1" r="4.5" fill="#c80032"/><circle cy="246.1" r="4.5" fill="#c80032"/><circle cy="246.3" r="4.5" fill="#c80032"/><circle cy="246.7" r="4.5" fill="#c80032"/><circle cy="246.7" r="4.5" fill="#c80032"/><circle cy="247.2" r="4.5" fill="#c80032"/><circle cy="247.3" r="4.5" fill="#c80032"/><circle cy="247.9" r="4.5" fill="#c80032"/><circle cy="250.3" r="4.5" fill="#c80032"/><circle cy="250.9" r="4.5" fill="#c80032"/><circle cy="251.3" r="4.5" fill="#c80032"/><circle cy="252.2" r="4.5" fill="#c80032"/><circle cy="254.5" r="4.5" fill="#c80032"/><circle cy="254.6" r="4.5" fill="#c80032"/><circle cy="255.8" r="4.5" fill="#c80032"/><circle cy="256.4" r="4.5"/><circle cy="256.7" r="4.5" fill="#c80032"/><circle cy="257.0" r="4.5" fill="#c80032"/><circle cy="257.3" r="4.5"/><circle cy="257.3" r="4.5" fill="#c80032"/><circle cy="258.3" r="4.5" fill="#c80032"/><circle cy="259.4" r="4.5" fill="#c80032"/><circle cy="259.5" r="4.5" fill="#c80032"/><circle cy="259.9" r="4.5" fill="#c80032"/><circle cy="260.1" r="4.5" fill="#c80032"/><circle cy="260.2" r="4.5"/><circle cy="260.8" r="4.5" fill="#c80032"/><circle cy="261.3" r="4.5"/><circle cy="261.4" r="4.5" fill="#c80032"/><circle cy="263.7" r="4.5"/><circle cy="264.5" r="4.5" fill="#c80032"/><circle cy="265.0" r="4.5" fill="#c80032"/><circle cy="265.4" r="4.5" fill="#c80032"/><circle cy="266.2" r="4.5" fill="#c80032"/><circle cy="266.5" r="4.5" fill="#c80032"/><circle cy="267.4" r="4.5" fill="#c80032"/><circle cy="268.2" r="4.5"/><circle cy="268.9" r="4.5"/><circle cy="269.3" r="4.5" fill="#c80032"/><circle cy="270.8" r="4.5" fill="#c80032"/><circle cy="271.1" r="4.5"/><circle cy="272.7" r="4.5" fill="#c80032"/><circle cy="272.8" r="4.5" fill="#c80032"/><circle cy="273.3" r="4.5" fill="#c80032"/><circle cy="274.5" r="4.5"/><circle cy="274.5" r="4.5" fill="#c80032"/><circle cy="275.4" r="4.5" fill="#c80032"/><circle cy="276.7" r="4.5" fill="#c80032"/><circle cy="277.6" r="4.5" fill="#c80032"/><circle cy="277.6" r="4.5" fill="#c80032"/><circle cy="278.2" r="4.5" fill="#c80032"/><circle cy="279.0" r="4.5"/><circle cy="279.2" r="4.5"/><circle cy="280.4" r="4.5" fill="#c80032"/><circle cy="280.6" r="4.5" fill="#c80032"/><circle cy="280.7" r="4.5"/><circle cy="287.0" r="4.5" fill="#c80032"/><circle cy="288.2" r="4.5" fill="#c80032"/><circle cy="288.8" r="4.5" fill="#c80032"/><circle cy="289.3" r="4.5" fill="#c80032"/><circle cy="289.9" r="4.5"/><circle cy="291.1" r="4.5"/><circle cy="293.5" r="4.5" fill="#c80032"/><circle cy="294.7" r="4.5" fill="#c80032"/><circle cy="295.6" r="4.5" fill="#c80032"/><circle cy="296.1" r="4.5" fill="#c80032"/><circle cy="296.5" r="4.5" fill="#c80032"/><circle cy="296.9" r="4.5" fill="#c80032"/><circle cy="298.2" r="4.5" fill="#c80032"/><circle cy="298.3" r="4.5" fill="#c80032"/><circle cy="299.0" r="4.5" fill="#c80032"/><circle cy="300.1" r="4.5"/><circle cy="305.4" r="4.5" fill="#c80032"/><circle cy="305.4" r="4.5" fill="#c80032"/><circle cy="306.2" r="4.5" fill="#c80032"/><circle cy="306.5" r="4.5" fill="#c80032"/><circle cy="306.7" r="4.5" fill="#c80032"/><circle cy="307.2" r="4.5" fill="#c80032"/><circle cy="307.9" r="4.5" fill="#c80032"/><circle cy="308.0" r="4.5" fill="#c80032"/><circle cy="309.8" r="4.5" fill="#c80032"/><circle cy="310.3" r="4.5" fill="#c80032"/><circle cy="310.9" r="4.5" fill="#c80032"/><circle cy="311.7" r="4.5" fill="#c80032"/><circle cy="312.6" r="4.5"/><circle cy="314.0" r="4.5" fill="#c80032"/><circle cy="315.2" r="4.5"/><circle cy="316.2" r="4.5" fill="#c80032"/><circle cy="316.5" r="4.5" fill="#c80032"/><circle cy="316.9" r="4.5" fill="#c80032"/><circle cy="318.8" r="4.5" fill="#c80032"/><circle cy="319.9" r="4.5" fill="#c80032"/><circle cy="320.2" r="4.5" fill="#c80032"/><circle cy="320.4" r="4.5" fill="#c80032"/><circle cy="321.3" r="4.5" fill="#c80032"/><circle cy="323.0" r="4.5" fill="#c80032"/><circle cy="326.8" r="4.5" fill="#c80032"/><circle cy="326.9" r="4.5" fill="#c80032"/><circle cy="329.0" r="4.5"/><circle cy="329.7" r="4.5" fill="#c80032"/><circle cy="330.4" r="4.5" fill="#c80032"/><circle cy="330.5" r="4.5" fill="#c80032"/><circle cy="330.9" r="4.5" fill="#c80032"/><circle cy="331.2" r="4.5"/><circle cy="331.5" r="4.5" fill="#c80032"/><circle cy="331.6" r="4.5" fill="#c80032"/><circle cy="331.9" r="4.5" fill="#c80032"/><circle cy="332.8" r="4.5" fill="#c80032"/><circle cy="332.8" r="4.5" fill="#c80032"/><circle cy="335.1" r="4.5" fill="#c80032"/><circle cy="335.7" r="4.5" fill="#c80032"/><circle cy="336.1" r="4.5" fill="#c80032"/><circle cy="336.1" r="4.5" fill="#c80032"/><circle cy="336.5" r="4.5" fill="#c80032"/><circle cy="339.2" r="4.5" fill="#c80032"/><circle cy="340.8" r="4.5" fill="#c80032"/><circle cy="342.1" r="4.5"/><circle cy="342.3" r="4.5"/><circle cy="343.7" r="4.5" fill="#c80032"/><circle cy="345.7" r="4.5" fill="#c80032"/><circle cy="346.7" r="4.5" fill="#c80032"/><circle cy="350.2" r="4.5" fill="#c80032"/><circle cy="350.8" r="4.5"/><circle cy="352.1" r="4.5"/><circle cy="352.9" r="4.5" fill="#c80032"/><circle cy="353.4" r="4.5"/><circle cy="353.7" r="4.5" fill="#c80032"/><circle cy="354.3" r="4.5" fill="#c80032"/><circle cy="369.4" r="4.5" fill="#c80032"/><circle cy="373.6" r="4.5"/><circle cy="374.8" r="4.5" fill="#c80032"/><circle cy="385.4" r="4.5" fill="#c80032"/><circle cy="394.9" r="4.5" fill="#c80032"/><circle cy="401.5" r="4.5" fill="#c80032"/><circle cy="407.0" r="4.5" fill="#c80032"/><circle cy="415.1" r="4.5" fill="#c80032"/><circle cy="429.5" r="4.5" fill="#c80032"/><circle cy="430.2" r="4.5" fill="#c80032"/><circle cy="431.5" r="4.5" fill="#c80032"/><circle cy="189.1" r="4.5" fill="#c80032"/><circle cy="200.4" r="4.5" fill="#c80032"/><circle cy="245.1" r="4.5"/><circle cy="370.1" r="4.5" fill="#c80032"/><circle cy="424.7" r="4.5" fill="#c80032"/><circle cy="406.8" r="4.5" fill="#c80032"/><circle cy="349.5" r="4.5" fill="#c80032"/><circle cy="381.9" r="4.5" fill="#c80032"/><circle cy="240.1" r="4.5" fill="#c80032"/><circle cy="339.1" r="4.5" fill="#c80032"/><circle cy="217.8" r="4.5" fill="#c80032"/><circle cy="251.0" r="4.5" fill="#c80032"/><circle cy="205.9" r="4.5" fill="#c80032"/><circle cy="296.3" r="4.5" fill="#c80032"/><circle cy="268.5" r="4.5" fill="#c80032"/><circle cy="318.9" r="4.5" fill="#c80032"/><circle cy="259.8" r="4.5" fill="#c80032"/><circle cy="286.4" r="4.5" fill="#c80032"/><circle cy="277.4" r="4.5" fill="#c80032"/><circle cy="361.1" r="4.5" fill="#c80032"/><circle cy="229.1" r="4.5" fill="#c80032"/><circle cy="308.0" r="4.5" fill="#c80032"/><circle cy="328.9" r="4.5" fill="#c80032"/><circle cy="463.7" r="4.5"/><circle cy="481.4" r="4.5"/><circle cy="164.3" r="4.5"/><circle cy="179.5" r="4.5"/><circle cy="201.1" r="4.5"/><circle cy="458.6" r="4.5" fill="#c80032"/><circle cy="472.5" r="4.5" fill="#c80032"/><circle cy="478.4" r="4.5" fill="#c80032"/><circle cy="392.5" r="4.5" fill="#c80032"/><circle cy="411.6" r="4.5" fill="#c80032"/><circle cy="417.9" r="4.5" fill="#c80032"/><circle cy="433.2" r="4.5" fill="#c80032"/><circle cy="440.8" r="4.5" fill="#c80032"/><circle cy="173.7" r="4.5" fill="#c80032"/><circle cy="190.4" r="4.5" fill="#c80032"/><circle cy="207.5" r="4.5" fill="#c80032"/></g>
<g transform="translate(174.4)"><circle cy="437.0" r="4.5"/><circle cy="355.3" r="4.5"/><circle cy="342.6" r="4.5"/><circle cy="255.2" r="4.5"/><circle cy="261.2" r="4.5"/><circle cy="212.0" r="4.5"/><circle cy="312.5" r="4.5"/><circle cy="187.2" r="4.5"/><circle cy="226.5" r="4.5"/><circle cy="330.6" r="4.5"/><circle cy="174.3" r="4.5"/><circle cy="302.0" r="4.5"/><circle cy="276.9" r="4.5"/><circle cy="273.7" r="4.5"/><circle cy="231.6" r="4.5"/><circle cy="196.7" r="4.5"/><circle cy="350.5" r="4.5"/><circle cy="314.7" r="4.5"/><circle cy="322.6" r="4.5"/><circle cy="186.3" r="4.5"/><circle cy="318.4" r="4.5"/><circle cy="209.6" r="4.5"/><circle cy="205.9" r="4.5"/><circle cy="270.5" r="4.5"/><circle cy="284.9" r="4.5"/><circle cy="190.8" r="4.5"/><circle cy="428.8" r="4.5"/><circle cy="412.4" r="4.5"/><circle cy="440.9" r="4.5"/><circle cy="443.2" r="4.5"/><circle cy="422.0" r="4.5"/><circle cy="392.8" r="4.5"/><circle cy="445.6" r="4.5"/><circle cy="424.7" r="4.5"/><circle cy="386.2" r="4.5"/><circle cy="437.2" r="4.5"/><circle cy="182.5" r="4.5"/><circle cy="190.0" r="4.5"/><circle cy="196.1" r="4.5"/><circle cy="205.3" r="4.5"/><circle cy="203.3" r="4.5" fill="#c80032"/><circle cy="203.4" r="4.5" fill="#c80032"/><circle cy="203.6" r="4.5" fill="#c80032"/><circle cy="203.9" r="4.5" fill="#c80032"/><circle cy="205.5" r="4.5" fill="#c80032"/><circle cy="207.0" r="4.5" fill="#c80032"/><circle cy="207.7" r="4.5" fill="#c80032"/><circle cy="208.7" r="4.5" fill="#c80032"/><circle cy="209.5" r="4.5" fill="#c80032"/><circle cy="210.7" r="4.5" fill="#c80032"/><circle cy="210.7" r="4.5" fill="#c80032"/><circle cy="211.1" r="4.5" fill="#c80032"/><circle cy="211.3" r="4.5" fill="#c80032"/><circle cy="211.6" r="4.5" fill="#c80032"/><circle cy="213.9" r="4.5" fill="#c80032"/><circle cy="214.5" r="4.5" fill="#c80032"/><circle cy="214.7" r="4.5" fill="#c80032"/><circle cy="214.8" r="4.5" fill="#c80032"/><circle cy="215.6" r="4.5"/><circle cy="217.4" r="4.5"/><circle cy="218.0" r="4.5"/><circle cy="221.5" r="4.5" fill="#c80032"/><circle cy="223.1" r="4.5"/><circle cy="223.9" r="4.5"/><circle cy="223.9" r="4.5" fill="#c80032"/><circle cy="227.1" r="4.5" fill="#c80032"/><circle cy="228.6" r="4.5" fill="#c80032"/><circle cy="229.1" r="4.5"/><circle cy="229.7" r="4.5" fill="#c80032"/><circle cy="230.3" r="4.5" fill="#c80032"/><circle cy="230.8" r="4.5" fill="#c80032"/><circle cy="231.7" r="4.5" fill="#c80032"/><circle cy="232.3" r="4.5"/><circle cy="232.8" r="4.5" fill="#c80032"/><circle cy="235.5" r="4.5" fill="#c80032"/><circle cy="235.6" r="4.5" fill="#c80032"/><circle cy="236.0" r="4.5" fill="#c80032"/><circle cy="238.1" r="4.5" fill="#c80032"/><circle cy="240.4" r="4.5" fill="#c80032"/><circle cy="241.9" r="4.5" fill="#c80032"/><circle cy="241.9" r="4.5" fill="#c80032"/><circle cy="242.6" r="4.5" fill="#c80032"/><circle cy="243.4" r="4.5" fill="#c80032"/><circle cy="245.4" r="4.5"/><circle cy="246.0" r="4.5" fill="#c80032"/><circle cy="246.0" r="4.5"/><circle cy="247.6" r="4.5" fill="#c80032"/><circle cy="247.6" r="4.5"/><circle cy="249.0" r="4.5" fill="#c80032"/><circle cy="249.5" r="4.5" fill="#c80032"/><circle cy="250.6" r="4.5" fill="#c80032"/><circle cy="250.6" r="4.5"/><circle cy="251.8" r="4.5" fill="#c80032"/><circle cy="253.2" r="4.5" fill="#c80032"/><circle cy="253.5" r="4.5" fill="#c80032"/><circle cy="253.5" r="4.5" fill="#c80032"/><circle cy="253.8" r="4.5" fill="#c80032"/><circle cy="254.4" r="4.5" fill="#c80032"/><circle cy="255.2" r="4.5" fill="#c80032"/><circle cy="255.4" r="4.5" fill="#c80032"/><circle cy="255.6" r="4.5" fill="#c80032"/><circle cy="255.8" r="4.5" fill="#c80032"/><circle cy="257.0" r="4.5" fill="#c80032"/><circle cy="257.2" r="4.5" fill="#c80032"/><circle cy="257.4" r="4.5" fill="#c80032"/><circle cy="257.6" r="4.5" fill="#c80032"/><circle cy="257.8" r="4.5" fill="#c80032"/><circle cy="258.1" r="4.5" fill="#c80032"/><circle cy="259.1" r="4.5" fill="#c80032"/><circle cy="260.3" r="4.5" fill="#c80032"/><circle cy="260.3" r="4.5" fill="#c80032"/><circle cy="260.6" r="4.5" fill="#c80032"/><circle cy="261.0" r="4.5" fill="#c80032"/><circle cy="261.3" r="4.5" fill="#c80032"/><circle cy="263.2" r="4.5" fill="#c80032"/><circle cy="263.6" r="4.5" fill="#c80032"/><circle cy="264.8" r="4.5" fill="#c80032"/><circle cy="265.1" r="4.5" fill="#c80032"/><circle cy="265.4" r="4.5" fill="#c80032"/><circle cy="266.1" r="4.5" fill="#c80032"/><circle cy="266.6" r="4.5" fill="#c80032"/><circle cy="266.6" r="4.5" fill="#c80032"/><circle cy="267.0" r="4.5"/><circle cy="268.9" r="4.5" fill="#c80032"/><circle cy="269.1" r="4.5" fill="#c80032"/><circle cy="271.6" r="4.5" fill="#c80032"/><circle cy="271.9" r="4.5" fill="#c80032"/><circle cy="272.0" r="4.5" fill="#c80032"/><circle cy="274.2" r="4.5" fill="#c80032"/><circle cy="274.4" r="4.5" fill="#c80032"/><circle cy="276.0" r="4.5" fill="#c80032"/><circle cy="278.3" r="4.5" fill="#c80032"/><circle cy="278.7" r="4.5" fill="#c80032"/><circle cy="278.9" r="4.5" fill="#c80032"/><circle cy="279.0" r="4.5" fill="#c80032"/><circle cy="279.3" r="4.5"/><circle cy="279.6" r="4.5" fill="#c80032"/><circle cy="279.7" r="4.5" fill="#c80032"/><circle cy="280.3" r="4.5" fill="#c80032"/><circle cy="281.4" r="4.5" fill="#c80032"/><circle cy="283.6" r="4.5"/><circle cy="283.8" r="4.5"/><circle cy="284.1" r="4.5" fill="#c80032"/><circle cy="286.1" r="4.5" fill="#c80032"/><circle cy="286.2" r="4.5" fill="#c80032"/><circle cy="286.9" r="4.5" fill="#c80032"/><circle cy="288.1" r="4.5" fill="#c80032"/><circle cy="288.6" r="4.5" fill="#c80032"/><circle cy="290.0" r="4.5" fill="#c80032"/><circle cy="290.2" r="4.5" fill="#c80032"/><circle cy="293.1" r="4.5"/><circle cy="294.2" r="4.5" fill="#c80032"/><circle cy="294.2" r="4.5" fill="#c80032"/><circle cy="294.4" r="4.5" fill="#c80032"/><circle cy="294.6" r="4.5"/><circle cy="294.8" r="4.5" fill="#c80032"/><circle cy="295.3" r="4.5" fill="#c80032"/><circle cy="295.8" r="4.5" fill="#c80032"/><circle cy="295.8" r="4.5" fill="#c80032"/><circle cy="295.8" r="4.5" fill="#c80032"/><circle cy="296.6" r="4.5" fill="#c80032"/><circle cy="297.1" r="4.5" fill="#c80032"/><circle cy="297.3" r="4.5" fill="#c80032"/><circle cy="299.0" r="4.5" fill="#c80032"/><circle cy="299.4" r="4.5" fill="#c80032"/><circle cy="299.9" r="4.5" fill="#c80032"/><circle cy="301.8" r="4.5" fill="#c80032"/><circle cy="303.9" r="4.5" fill="#c80032"/><circle cy="305.5" r="4.5" fill="#c80032"/><circle cy="306.1" r="4.5" fill="#c80032"/><circle cy="306.3" r="4.5" fill="#c80032"/><circle cy="307.3" r="4.5" fill="#c80032"/><circle cy="308.0" r="4.5" fill="#c80032"/><circle cy="310.3" r="4.5" fill="#c80032"/><circle cy="310.3" r="4.5" fill="#c80032"/><circle cy="310.7" r="4.5" fill="#c80032"/><circle cy="311.2" r="4.5" fill="#c80032"/><circle cy="311.8" r="4.5" fill="#c80032"/><circle cy="311.8" r="4.5" fill="#c80032"/><circle cy="312.0" r="4.5" fill="#c80032"/><circle cy="312.8" r="4.5" fill="#c80032"/><circle cy="312.8" r="4.5" fill="#c80032"/><circle cy="313.4" r="4.5" fill="#c80032"/><circle cy="316.1" r="4.5" fill="#c80032"/><circle cy="316.5" r="4.5"/><circle cy="317.7" r="4.5" fill="#c80032"/><circle cy="319.1" r="4.5" fill="#c80032"/><circle cy="319.3" r="4.5" fill="#c80032"/><circle cy="319.9" r="4.5" fill="#c80032"/><circle cy="320.5" r="4.5" fill="#c80032"/><circle cy="321.0" r="4.5" fill="#c80032"/><circle cy="321.3" r="4.5" fill="#c80032"/><circle cy="321.8" r="4.5" fill="#c80032"/><circle cy="322.0" r="4.5" fill="#c80032"/><circle cy="323.4" r="4.5" fill="#c80032"/><circle cy="326.3" r="4.5" fill="#c80032"/><circle cy="327.2" r="4.5" fill="#c80032"/><circle cy="328.2" r="4.5" fill="#c80032"/><circle cy="329.4" r="4.5" fill="#c80032"/><circle cy="330.7" r="4.5" fill="#c80032"/><circle cy="330.9" r="4.5" fill="#c80032"/><circle cy="330.9" r="4.5" fill="#c80032"/><circle cy="331.3" r="4.5" fill="#c80032"/><circle cy="332.0" r="4.5" fill="#c80032"/><circle cy="334.1" r="4.5" fill="#c80032"/><circle cy="334.1" r="4.5" fill="#c80032"/><circle cy="334.2" r="4.5" fill="#c80032"/><circle cy="335.8" r="4.5" fill="#c80032"/><circle cy="335.9" r="4.5" fill="#c80032"/><circle cy="337.1" r="4.5" fill="#c80032"/><circle cy="337.9" r="4.5" fill="#c80032"/><circle cy="339.0" r="4.5"/><circle cy="340.7" r="4.5" fill="#c80032"/><circle cy="342.2" r="4.5" fill="#c80032"/><circle cy="343.0" r="4.5" fill="#c80032"/><circle cy="344.0" r="4.5" fill="#c80032"/><circle cy="344.5" r="4.5" fill="#c80032"/><circle cy="344.6" r="4.5" fill="#c80032"/><circle cy="346.3" r="4.5" fill="#c80032"/><circle cy="347.5" r="4.5" fill="#c80032"/><circle cy="349.0" r="4.5" fill="#c80032"/><circle cy="349.5" r="4.5" fill="#c80032"/><circle cy="349.8" r="4.5" fill="#c80032"/><circle cy="351.4" r="4.5" fill="#c80032"/><circle cy="352.0" r="4.5" fill="#c80032"/><circle cy="355.8" r="4.5" fill="#c80032"/><circle cy="362.1" r="4.5" fill="#c80032"/><circle cy="376.3" r="4.5" fill="#c80032"/><circle cy="379.6" r="4.5" fill="#c80032"/><circle cy="385.8" r="4.5" fill="#c80032"/><circle cy="386.1" r="4.5" fill="#c80032"/><circle cy="392.5" r="4.5" fill="#c80032"/><circle cy="403.9" r="4.5" fill="#c80032"/><circle cy="405.7" r="4.5" fill="#c80032"/><circle cy="408.0" r="4.5" fill="#c80032"/><circle cy="408.6" r="4.5"/><circle cy="412.3" r="4.5" fill="#c80032"/><circle cy="437.1" r="4.5" fill="#c80032"/><circle cy="183.9" r="4.5" fill="#c80032"/><circle cy="367.2" r="4.5"/><circle cy="367.2" r="4.5"/><circle cy="405.7" r="4.5" fill="#c80032"/><circle cy="224.6" r="4.5" fill="#c80032"/><circle cy="307.1" r="4.5" fill="#c80032"/><circle cy="256.1" r="4.5" fill="#c80032"/><circle cy="285.8" r="4.5" fill="#c80032"/><circle cy="235.0" r="4.5" fill="#c80032"/><circle cy="346.2" r="4.5" fill="#c80032"/><circle cy="296.1" r="4.5" fill="#c80032"/><circle cy="440.6" r="4.5" fill="#c80032"/><circle cy="337.5" r="4.5" fill="#c80032"/><circle cy="268.1" r="4.5" fill="#c80032"/><circle cy="316.7" r="4.5" fill="#c80032"/><circle cy="421.8" r="4.5" fill="#c80032"/><circle cy="377.4" r="4.5" fill="#c80032"/><circle cy="204.9" r="4.5" fill="#c80032"/><circle cy="327.4" r="4.5" fill="#c80032"/><circle cy="358.1" r="4.5" fill="#c80032"/><circle cy="388.5" r="4.5"/><circle cy="213.7" r="4.5" fill="#c80032"/><circle cy="277.2" r="4.5" fill="#c80032"/><circle cy="246.8" r="4.5" fill="#c80032"/><circle cy="162.5" r="4.5"/><circle cy="170.6" r="4.5"/><circle cy="175.7" r="4.5"/><circle cy="184.6" r="4.5"/><circle cy="191.0" r="4.5"/><circle cy="203.7" r="4.5"/><circle cy="471.8" r="4.5" fill="#c80032"/><circle cy="475.1" r="4.5" fill="#c80032"/><circle cy="485.7" r="4.5" fill="#c80032"/><circle cy="499.7" r="4.5" fill="#c80032"/><circle cy="392.5" r="4.5" fill="#c80032"/><circle cy="396.3" r="4.5" fill="#c80032"/><circle cy="404.0" r="4.5" fill="#c80032"/><circle cy="410.8" r="4.5" fill="#c80032"/><circle cy="423.0" r="4.5" fill="#c80032"/><circle cy="429.4" r="4.5" fill="#c80032"/><circle cy="443.3" r="4.5" fill="#c80032"/><circle cy="216.3" r="4.5" fill="#c80032"/></g>
<g transform="translate(184.9)"><circle cy="306.4" r="4.5"/><circle cy="278.8" r="4.5"/><circle cy="309.9" r="4.5"/><circle cy="335.0" r="4.5"/><circle cy="204.8" r="4.5"/><circle cy="174.5" r="4.5"/><circle cy="185.8" r="4.5"/><circle cy="219.4" r="4.5"/><circle cy="207.8" r="4.5"/><circle cy="295.2" r="4.5"/><circle cy="207.3" r="4.5"/><circle cy="251.6" r="4.5"/><circle cy="208.6" r="4.5"/><circle cy="172.5" r="4.5"/><circle cy="335.5" r="4.5"/><circle cy="287.4" r="4.5"/><circle cy="185.1" r="4.5"/><circle cy="309.1" r="4.5"/><circle cy="288.1" r="4.5"/><circle cy="273.7" r="4.5"/><circle cy="294.6" r="4.5"/><circle cy="298.1" r="4.5"/><circle cy="264.9" r="4.5"/><circle cy="321.7" r="4.5"/><circle cy="443.7" r="4.5"/><circle cy="439.7" r="4.5"/><circle cy="366.7" r="4.5"/><circle cy="380.4" r="4.5"/><circle cy="380.6" r="4.5"/><circle cy="414.4" r="4.5"/><circle cy="413.8" r="4.5"/><circle cy="449.7" r="4.5"/><circle cy="400.9" r="4.5"/><circle cy="379.1" r="4.5"/><circle cy="182.8" r="4.5"/><circle cy="189.3" r="4.5"/><circle cy="199.0" r="4.5"/><circle cy="203.7" r="4.5" fill="#c80032"/><circle cy="205.3" r="4.5" fill="#c80032"/><circle cy="205.7" r="4.5"/><circle cy="206.1" r="4.5" fill="#c80032"/><circle cy="206.5" r="4.5" fill="#c80032"/><circle cy="207.6" r="4.5" fill="#c80032"/><circle cy="208.2" r="4.5"/><circle cy="208.4" r="4.5" fill="#c80032"/><circle cy="208.5" r="4.5" fill="#c80032"/><circle cy="209.5" r="4.5" fill="#c80032"/><circle cy="209.9" r="4.5" fill="#c80032"/><circle cy="210.2" r="4.5" fill="#c80032"/><circle cy="210.6" r="4.5" fill="#c80032"/><circle cy="210.6" r="4.5" fill="#c80032"/><circle cy="211.4" r="4.5" fill="#c80032"/><circle cy="212.0" r="4.5"/><circle cy="213.2" r="4.5" fill="#c80032"/><circle cy="215.8" r="4.5" fill="#c80032"/><circle cy="218.0" r="4.5" fill="#c80032"/><circle cy="218.6" r="4.5" fill="#c80032"/><circle cy="220.6" r="4.5" fill="#c80032"/><circle cy="221.6" r="4.5"/><circle cy="221.6" r="4.5" fill="#c80032"/><circle cy="222.3" r="4.5" fill="#c80032"/><circle cy="222.3" r="4.5" fill="#c80032"/><circle cy="222.8" r="4.5"/><circle cy="222.8" r="4.5" fill="#c80032"/><circle cy="223.0" r="4.5" fill="#c80032"/><circle cy="223.2" r="4.5" fill="#c80032"/><circle cy="223.3" r="4.5" fill="#c80032"/><circle cy="223.9" r="4.5" fill="#c80032"/><circle cy="224.3" r="4.5" fill="#c80032"/><circle cy="225.7" r="4.5" fill="#c80032"/><circle cy="227.2" r="4.5" fill="#c80032"/><circle cy="227.4" r="4.5"/><circle cy="229.5" r="4.5" fill="#c80032"/><circle cy="229.5" r="4.5" fill="#c80032"/><circle cy="229.5" r="4.5"/><circle cy="230.2" r="4.5" fill="#c80032"/><circle cy="230.5" r="4.5" fill="#c80032"/><circle cy="231.4" r="4.5" fill="#c80032"/><circle cy="231.7" r="4.5" fill="#c80032"/><circle cy="233.7" r="4.5" fill="#c80032"/><circle cy="234.7" r="4.5"/><circle cy="236.9" r="4.5" fill="#c80032"/><circle cy="237.1" r="4.5" fill="#c80032"/><circle cy="237.5" r="4.5" fill="#c80032"/><circle cy="238.3" r="4.5" fill="#c80032"/><circle cy="239.2" r="4.5" fill="#c80032"/><circle cy="240.5" r="4.5" fill="#c80032"/><circle cy="240.7" r="4.5" fill="#c80032"/><circle cy="241.4" r="4.5" fill="#c80032"/><circle cy="242.0" r="4.5" fill="#c80032"/><circle cy="242.4" r="4.5" fill="#c80032"/><circle cy="242.7" r="4.5" fill="#c80032"/><circle cy="243.2" r="4.5"/><circle cy="243.8" r="4.5" fill="#c80032"/><circle cy="245.4" r="4.5" fill="#c80032"/><circle cy="246.7" r="4.5" fill="#c80032"/><circle cy="249.1" r="4.5"/><circle cy="249.4" r="4.5" fill="#c80032"/><circle cy="250.6" r="4.5" fill="#c80032"/><circle cy="251.3" r="4.5" fill="#c80032"/><circle cy="252.6" r="4.5" fill="#c80032"/><circle cy="254.7" r="4.5" fill="#c80032"/><circle cy="255.4" r="4.5"/><circle cy="255.5" r="4.5" fill="#c80032"/><circle cy="255.6" r="4.5" fill="#c80032"/><circle cy="255.8" r="4.5"/><circle cy="256.0" r="4.5"/><circle cy="258.2" r="4.5" fill="#c80032"/><circle cy="258.2" r="4.5" fill="#c80032"/><circle cy="258.7" r="4.5" fill="#c80032"/><circle cy="258.8" r="4.5" fill="#c80032"/><circle cy="258.9" r="4.5" fill="#c80032"/><circle cy="259.1" r="4.5" fill="#c80032"/><circle cy="260.9" r="4.5" fill="#c80032"/><circle cy="262.3" r="4.5" fill="#c80032"/><circle cy="263.4" r="4.5" fill="#c80032"/><circle cy="264.8" r="4.5" fill="#c80032"/><circle cy="265.1" r="4.5" fill="#c80032"/><circle cy="265.8" r="4.5" fill="#c80032"/><circle cy="267.2" r="4.5" fill="#c80032"/><circle cy="267.5" r="4.5" fill="#c80032"/><circle cy="267.9" r="4.5" fill="#c80032"/><circle cy="267.9" r="4.5" fill="#c80032"/><circle cy="268.6" r="4.5" fill="#c80032"/><circle cy="270.7" r="4.5" fill="#c80032"/><circle cy="271.3" r="4.5" fill="#c80032"/><circle cy="273.7" r="4.5"/><circle cy="274.3" r="4.5" fill="#c80032"/><circle cy="275.1" r="4.5" fill="#c80032"/><circle cy="276.8" r="4.5" fill="#c80032"/><circle cy="276.9" r="4.5" fill="#c80032"/><circle cy="277.3" r="4.5" fill="#c80032"/><circle cy="278.0" r="4.5"/><circle cy="278.3" r="4.5" fill="#c80032"/><circle cy="280.9" r="4.5" fill="#c80032"/><circle cy="281.0" r="4.5" fill="#c80032"/><circle cy="282.4" r="4.5" fill="#c80032"/><circle cy="283.6" r="4.5" fill="#c80032"/><circle cy="287.5" r="4.5" fill="#c80032"/><circle cy="288.2" r="4.5" fill="#c80032"/><circle cy="288.3" r="4.5" fill="#c80032"/><circle cy="288.3" r="4.5" fill="#c80032"/><circle cy="288.6" r="4.5" fill="#c80032"/><circle cy="290.9" r="4.5" fill="#c80032"/><circle cy="292.3" r="4.5" fill="#c80032"/><circle cy="294.5" r="4.5" fill="#c80032"/><circle cy="294.5" r="4.5" fill="#c80032"/><circle cy="296.7" r="4.5" fill="#c80032"/><circle cy="296.9" r="4.5" fill="#c80032"/><circle cy="297.1" r="4.5" fill="#c80032"/><circle cy="297.7" r="4.5" fill="#c80032"/><circle cy="297.9" r="4.5" fill="#c80032"/><circle cy="299.3" r="4.5" fill="#c80032"/><circle cy="299.4" r="4.5" fill="#c80032"/><circle cy="300.5" r="4.5" fill="#c80032"/><circle cy="301.9" r="4.5" fill="#c80032"/><circle cy="303.0" r="4.5" fill="#c80032"/><circle cy="303.9" r="4.5" fill="#c80032"/><circle cy="305.3" r="4.5" fill="#c80032"/><circle cy="306.4" r="4.5" fill="#c80032"/><circle cy="306.6" r="4.5"/><circle cy="307.5" r="4.5" fill="#c80032"/><circle cy="307.8" r="4.5" fill="#c80032"/><circle cy="308.8" r="4.5" fill="#c80032"/><circle cy="309.6" r="4.5" fill="#c80032"/><circle cy="310.6" r="4.5"/><circle cy="311.3" r="4.5" fill="#c80032"/><circle cy="311.5" r="4.5"/><circle cy="311.7" r="4.5" fill="#c80032"/><circle cy="312.2" r="4.5" fill="#c80032"/><circle cy="313.1" r="4.5" fill="#c80032"/><circle cy="313.9" r="4.5" fill="#c80032"/><circle cy="314.9" r="4.5" fill="#c80032"/><circle cy="315.3" r="4.5"/><circle cy="315.7" r="4.5" fill="#c80032"/><circle cy="315.8" r="4.5" fill="#c80032"/><circle cy="315.9" r="4.5" fill="#c80032"/><circle cy="316.7" r="4.5" fill="#c80032"/><circle cy="317.2" r="4.5" fill="#c80032"/><circle cy="318.0" r="4.5" fill="#c80032"/><circle cy="318.2" r="4.5"/><circle cy="319.2" r="4.5" fill="#c80032"/><circle cy="320.0" r="4.5" fill="#c80032"/><circle cy="320.6" r="4.5"/><circle cy="321.2" r="4.5" fill="#c80032"/><circle cy="321.3" r="4.5" fill="#c80032"/><circle cy="321.6" r="4.5" fill="#c80032"/><circle cy="322.0" r="4.5" fill="#c80032"/><circle cy="322.3" r="4.5" fill="#c80032"/><circle cy="322.7" r="4.5"/><circle cy="323.0" r="4.5" fill="#c80032"/><circle cy="324.9" r="4.5" fill="#c80032"/><circle cy="325.8" r="4.5" fill="#c80032"/><circle cy="326.9" r="4.5" fill="#c80032"/><circle cy="327.2" r="4.5" fill="#c80032"/><circle cy="328.6" r="4.5" fill="#c80032"/><circle cy="328.8" r="4.5" fill="#c80032"/><circle cy="329.4" r="4.5" fill="#c80032"/><circle cy="329.4" r="4.5" fill="#c80032"/><circle cy="329.5" r="4.5" fill="#c80032"/><circle cy="330.8" r="4.5" fill="#c80032"/><circle cy="331.2" r="4.5" fill="#c80032"/><circle cy="331.3" r="4.5"/><circle cy="331.6" r="4.5" fill="#c80032"/><circle cy="331.7" r="4.5" fill="#c80032"/><circle cy="334.1" r="4.5" fill="#c80032"/><circle cy="335.6" r="4.5" fill="#c80032"/><circle cy="336.0" r="4.5" fill="#c80032"/><circle cy="337.1" r="4.5" fill="#c80032"/><circle cy="338.9" r="4.5" fill="#c80032"/><circle cy="341.9" r="4.5"/><circle cy="343.3" r="4.5" fill="#c80032"/><circle cy="343.8" r="4.5" fill="#c80032"/><circle cy="352.2" r="4.5"/><circle cy="355.6" r="4.5" fill="#c80032"/><circle cy="359.3" r="4.5" fill="#c80032"/><circle cy="362.3" r="4.5" fill="#c80032"/><circle cy="369.4" r="4.5" fill="#c80032"/><circle cy="374.1" r="4.5" fill="#c80032"/><circle cy="382.0" r="4.5" fill="#c80032"/><circle cy="389.5" r="4.5" fill="#c80032"/><circle cy="183.9" r="4.5" fill="#c80032"/><circle cy="315.9" r="4.5"/><circle cy="358.8" r="4.5"/><circle cy="370.4" r="4.5" fill="#c80032"/><circle cy="204.9" r="4.5" fill="#c80032"/><circle cy="295.2" r="4.5" fill="#c80032"/><circle cy="265.7" r="4.5" fill="#c80032"/><circle cy="246.7" r="4.5" fill="#c80032"/><circle cy="215.4" r="4.5" fill="#c80032"/><circle cy="348.0" r="4.5" fill="#c80032"/><circle cy="225.6" r="4.5" fill="#c80032"/><circle cy="384.9" r="4.5"/><circle cy="276.5" r="4.5" fill="#c80032"/><circle cy="315.3" r="4.5" fill="#c80032"/><circle cy="255.9" r="4.5" fill="#c80032"/><circle cy="236.8" r="4.5" fill="#c80032"/><circle cy="326.4" r="4.5" fill="#c80032"/><circle cy="305.6" r="4.5" fill="#c80032"/><circle cy="285.0" r="4.5" fill="#c80032"/><circle cy="337.3" r="4.5" fill="#c80032"/><circle cy="471.3" r="4.5"/><circle cy="443.8" r="4.5"/><circle cy="152.9" r="4.5"/><circle cy="173.2" r="4.5"/><circle cy="184.6" r="4.5"/><circle cy="189.7" r="4.5"/><circle cy="202.4" r="4.5"/><circle cy="451.5" r="4.5" fill="#c80032"/><circle cy="457.3" r="4.5" fill="#c80032"/><circle cy="474.6" r="4.5" fill="#c80032"/><circle cy="480.9" r="4.5" fill="#c80032"/><circle cy="392.5" r="4.5" fill="#c80032"/><circle cy="399.7" r="4.5" fill="#c80032"/><circle cy="407.3" r="4.5" fill="#c80032"/><circle cy="416.7" r="4.5" fill="#c80032"/><circle cy="421.7" r="4.5" fill="#c80032"/><circle cy="426.8" r="4.5" fill="#c80032"/><circle cy="435.7" r="4.5" fill="#c80032"/><circle cy="163.0" r="4.5" fill="#c80032"/><circle cy="177.5" r="4.5" fill="#c80032"/><circle cy="196.0" r="4.5" fill="#c80032"/><circle cy="212.5" r="4.5" fill="#c80032"/></g>
<g transform="translate(195.3)"><circle cy="409.0" r="4.5"/><circle cy="397.6" r="4.5"/><circle cy="209.9" r="4.5"/><circle cy="299.1" r="4.5"/><circle cy="240.5" r="4.5"/><circle cy="294.1" r="4.5"/><circle cy="242.4" r="4.5"/><circle cy="347.6" r="4.5"/><circle cy="199.5" r="4.5"/><circle cy="299.7" r="4.5"/><circle cy="221.3" r="4.5"/><circle cy="221.2" r="4.5"/><circle cy="258.5" r="4.5"/><circle cy="329.5" r="4.5"/><circle cy="349.0" r="4.5"/><circle cy="184.3" r="4.5"/><circle cy="294.4" r="4.5"/><circle cy="262.3" r="4.5"/><circle cy="192.4" r="4.5"/><circle cy="282.9" r="4.5"/><circle cy="332.6" r="4.5"/><circle cy="203.5" r="4.5"/><circle cy="238.5" r="4.5"/><circle cy="191.0" r="4.5"/><circle cy="304.2" r="4.5"/><circle cy="437.4" r="4.5"/><circle cy="442.7" r="4.5"/><circle cy="393.6" r="4.5"/><circle cy="418.5" r="4.5"/><circle cy="393.4" r="4.5"/><circle cy="398.4" r="4.5"/><circle cy="417.5" r="4.5"/><circle cy="381.7" r="4.5"/><circle cy="364.8" r="4.5"/><circle cy="182.0" r="4.5"/><circle cy="190.9" r="4.5"/><circle cy="198.8" r="4.5"/><circle cy="203.2" r="4.5" fill="#c80032"/><circle cy="205.0" r="4.5" fill="#c80032"/><circle cy="207.1" r="4.5" fill="#c80032"/><circle cy="207.4" r="4.5" fill="#c80032"/><circle cy="207.8" r="4.5" fill="#c80032"/><circle cy="207.9" r="4.5" fill="#c80032"/><circle cy="209.1" r="4.5"/><circle cy="210.0" r="4.5" fill="#c80032"/><circle cy="210.3" r="4.5" fill="#c80032"/><circle cy="211.3" r="4.5" fill="#c80032"/><circle cy="212.3" r="4.5" fill="#c80032"/><circle cy="212.4" r="4.5"/><circle cy="213.5" r="4.5" fill="#c80032"/><circle cy="216.5" r="4.5" fill="#c80032"/><circle cy="217.0" r="4.5" fill="#c80032"/><circle cy="217.1" r="4.5" fill="#c80032"/><circle cy="217.3" r="4.5" fill="#c80032"/><circle cy="217.6" r="4.5" fill="#c80032"/><circle cy="219.8" r="4.5" fill="#c80032"/><circle cy="219.8" r="4.5" fill="#c80032"/><circle cy="220.0" r="4.5" fill="#c80032"/><circle cy="220.1" r="4.5" fill="#c80032"/><circle cy="221.3" r="4.5" fill="#c80032"/><circle cy="221.4" r="4.5" fill="#c80032"/><circle cy="221.6" r="4.5" fill="#c80032"/><circle cy="221.9" r="4.5"/><circle cy="223.0" r="4.5" fill="#c80032"/><circle cy="223.1" r="4.5" fill="#c80032"/><circle cy="226.5" r="4.5" fill="#c80032"/><circle cy="226.9" r="4.5" fill="#c80032"/><circle cy="228.2" r="4.5" fill="#c80032"/><circle cy="230.5" r="4.5" fill="#c80032"/><circle cy="231.1" r="4.5" fill="#c80032"/><circle cy="231.6" r="4.5" fill="#c80032"/><circle cy="234.4" r="4.5" fill="#c80032"/><circle cy="234.6" r="4.5" fill="#c80032"/><circle cy="234.8" r="4.5"/><circle cy="235.3" r="4.5" fill="#c80032"/><circle cy="238.6" r="4.5" fill="#c80032"/><circle cy="238.8" r="4.5" fill="#c80032"/><circle cy="239.5" r="4.5" fill="#c80032"/><circle cy="239.8" r="4.5" fill="#c80032"/><circle cy="240.5" r="4.5" fill="#c80032"/><circle cy="241.3" r="4.5" fill="#c80032"/><circle cy="241.5" r="4.5" fill="#c80032"/><circle cy="243.4" r="4.5" fill="#c80032"/><circle cy="243.6" r="4.5"/><circle cy="244.3" r="4.5" fill="#c80032"/><circle cy="244.5" r="4.5" fill="#c80032"/><circle cy="246.2" r="4.5" fill="#c80032"/><circle cy="246.4" r="4.5"/><circle cy="246.6" r="4.5" fill="#c80032"/><circle cy="246.9" r="4.5"/><circle cy="247.5" r="4.5" fill="#c80032"/><circle cy="251.0" r="4.5" fill="#c80032"/><circle cy="252.5" r="4.5" fill="#c80032"/><circle cy="253.0" r="4.5" fill="#c80032"/><circle cy="256.5" r="4.5" fill="#c80032"/><circle cy="257.9" r="4.5" fill="#c80032"/><circle cy="258.2" r="4.5" fill="#c80032"/><circle cy="258.9" r="4.5" fill="#c80032"/><circle cy="260.0" r="4.5" fill="#c80032"/><circle cy="260.3" r="4.5" fill="#c80032"/><circle cy="260.3" r="4.5" fill="#c80032"/><circle cy="261.1" r="4.5" fill="#c80032"/><circle cy="261.3" r="4.5" fill="#c80032"/><circle cy="262.1" r="4.5" fill="#c80032"/><circle cy="263.2" r="4.5" fill="#c80032"/><circle cy="263.9" r="4.5" fill="#c80032"/><circle cy="264.6" r="4.5" fill="#c80032"/><circle cy="265.2" r="4.5"/><circle cy="265.2" r="4.5" fill="#c80032"/><circle cy="267.8" r="4.5" fill="#c80032"/><circle cy="270.3" r="4.5" fill="#c80032"/><circle cy="270.6" r="4.5" fill="#c80032"/><circle cy="270.8" r="4.5" fill="#c80032"/><circle cy="272.2" r="4.5" fill="#c80032"/><circle cy="272.2" r="4.5" fill="#c80032"/><circle cy="272.3" r="4.5" fill="#c80032"/><circle cy="273.0" r="4.5" fill="#c80032"/><circle cy="273.6" r="4.5" fill="#c80032"/><circle cy="273.9" r="4.5" fill="#c80032"/><circle cy="274.5" r="4.5" fill="#c80032"/><circle cy="274.6" r="4.5" fill="#c80032"/><circle cy="275.9" r="4.5" fill="#c80032"/><circle cy="276.0" r="4.5" fill="#c80032"/><circle cy="276.9" r="4.5" fill="#c80032"/><circle cy="277.9" r="4.5" fill="#c80032"/><circle cy="278.0" r="4.5" fill="#c80032"/><circle cy="278.4" r="4.5" fill="#c80032"/><circle cy="278.7" r="4.5" fill="#c80032"/><circle cy="278.8" r="4.5" fill="#c80032"/><circle cy="278.8" r="4.5" fill="#c80032"/><circle cy="279.1" r="4.5"/><circle cy="279.8" r="4.5" fill="#c80032"/><circle cy="281.3" r="4.5" fill="#c80032"/><circle cy="283.3" r="4.5" fill="#c80032"/><circle cy="284.9" r="4.5" fill="#c80032"/><circle cy="285.4" r="4.5" fill="#c80032"/><circle cy="286.7" r="4.5" fill="#c80032"/><circle cy="289.7" r="4.5" fill="#c80032"/><circle cy="289.8" r="4.5" fill="#c80032"/><circle cy="289.9" r="4.5" fill="#c80032"/><circle cy="290.8" r="4.5" fill="#c80032"/><circle cy="290.9" r="4.5" fill="#c80032"/><circle cy="291.4" r="4.5" fill="#c80032"/><circle cy="291.9" r="4.5" fill="#c80032"/><circle cy="292.1" r="4.5" fill="#c80032"/><circle cy="293.0" r="4.5" fill="#c80032"/><circle cy="294.3" r="4.5" fill="#c80032"/><circle cy="294.7" r="4.5" fill="#c80032"/><circle cy="295.2" r="4.5"/><circle cy="295.3" r="4.5" fill="#c80032"/><circle cy="296.0" r="4.5" fill="#c80032"/><circle cy="296.7" r="4.5" fill="#c80032"/><circle cy="297.3" r="4.5" fill="#c80032"/><circle cy="297.6" r="4.5" fill="#c80032"/><circle cy="298.5" r="4.5" fill="#c80032"/><circle cy="299.4" r="4.5" fill="#c80032"/><circle cy="300.5" r="4.5" fill="#c80032"/><circle cy="301.2" r="4.5" fill="#c80032"/><circle cy="302.1" r="4.5" fill="#c80032"/><circle cy="302.6" r="4.5" fill="#c80032"/><circle cy="302.7" r="4.5"/><circle cy="304.4" r="4.5" fill="#c80032"/><circle cy="304.5" r="4.5" fill="#c80032"/><circle cy="306.2" r="4.5" fill="#c80032"/><circle cy="306.6" r="4.5" fill="#c80032"/><circle cy="306.6" r="4.5" fill="#c80032"/><circle cy="308.0" r="4.5" fill="#c80032"/><circle cy="310.8" r="4.5" fill="#c80032"/><circle cy="314.0" r="4.5" fill="#c80032"/><circle cy="314.2" r="4.5" fill="#c80032"/><circle cy="314.9" r="4.5" fill="#c80032"/><circle cy="315.6" r="4.5" fill="#c80032"/><circle cy="316.6" r="4.5" fill="#c80032"/><circle cy="317.0" r="4.5"/><circle cy="317.3" r="4.5"/><circle cy="318.7" r="4.5"/><circle cy="319.7" r="4.5" fill="#c80032"/><circle cy="320.1" r="4.5" fill="#c80032"/><circle cy="320.5" r="4.5" fill="#c80032"/><circle cy="321.8" r="4.5" fill="#c80032"/><circle cy="323.3" r="4.5" fill="#c80032"/><circle cy="323.5" r="4.5" fill="#c80032"/><circle cy="324.1" r="4.5"/><circle cy="325.8" r="4.5"/><circle cy="326.4" r="4.5"/><circle cy="326.5" r="4.5" fill="#c80032"/><circle cy="329.0" r="4.5"/><circle cy="329.3" r="4.5" fill="#c80032"/><circle cy="330.0" r="4.5"/><circle cy="331.7" r="4.5" fill="#c80032"/><circle cy="334.3" r="4.5" fill="#c80032"/><circle cy="334.9" r="4.5" fill="#c80032"/><circle cy="335.0" r="4.5" fill="#c80032"/><circle cy="335.4" r="4.5"/><circle cy="336.0" r="4.5" fill="#c80032"/><circle cy="336.0" r="4.5" fill="#c80032"/><circle cy="338.8" r="4.5" fill="#c80032"/><circle cy="339.4" r="4.5"/><circle cy="342.0" r="4.5" fill="#c80032"/><circle cy="342.7" r="4.5" fill="#c80032"/><circle cy="344.1" r="4.5" fill="#c80032"/><circle cy="345.3" r="4.5" fill="#c80032"/><circle cy="345.9" r="4.5" fill="#c80032"/><circle cy="346.6" r="4.5" fill="#c80032"/><circle cy="348.1" r="4.5" fill="#c80032"/><circle cy="349.4" r="4.5"/><circle cy="351.4" r="4.5" fill="#c80032"/><circle cy="351.7" r="4.5" fill="#c80032"/><circle cy="351.7" r="4.5" fill="#c80032"/><circle cy="352.3" r="4.5" fill="#c80032"/><circle cy="357.4" r="4.5" fill="#c80032"/><circle cy="367.0" r="4.5"/><circle cy="367.1" r="4.5" fill="#c80032"/><circle cy="371.0" r="4.5" fill="#c80032"/><circle cy="382.1" r="4.5" fill="#c80032"/><circle cy="187.7" r="4.5" fill="#c80032"/><circle cy="270.3" r="4.5" fill="#c80032"/><circle cy="248.3" r="4.5" fill="#c80032"/><circle cy="258.6" r="4.5" fill="#c80032"/><circle cy="334.3" r="4.5" fill="#c80032"/><circle cy="311.1" r="4.5" fill="#c80032"/><circle cy="421.4" r="4.5"/><circle cy="227.2" r="4.5" fill="#c80032"/><circle cy="236.7" r="4.5" fill="#c80032"/><circle cy="378.7" r="4.5" fill="#c80032"/><circle cy="281.7" r="4.5" fill="#c80032"/><circle cy="204.1" r="4.5" fill="#c80032"/><circle cy="365.9" r="4.5" fill="#c80032"/><circle cy="292.1" r="4.5" fill="#c80032"/><circle cy="322.7" r="4.5" fill="#c80032"/><circle cy="302.6" r="4.5" fill="#c80032"/><circle cy="216.0" r="4.5" fill="#c80032"/><circle cy="354.5" r="4.5" fill="#c80032"/><circle cy="343.1" r="4.5" fill="#c80032"/><circle cy="168.6" r="4.5"/><circle cy="178.3" r="4.5"/><circle cy="184.6" r="4.5"/><circle cy="191.0" r="4.5"/><circle cy="456.5" r="4.5" fill="#c80032"/><circle cy="476.3" r="4.5" fill="#c80032"/><circle cy="393.8" r="4.5" fill="#c80032"/><circle cy="414.1" r="4.5" fill="#c80032"/><circle cy="420.5" r="4.5" fill="#c80032"/><circle cy="428.1" r="4.5" fill="#c80032"/><circle cy="435.2" r="4.5" fill="#c80032"/><circle cy="440.8" r="4.5" fill="#c80032"/><circle cy="171.9" r="4.5" fill="#c80032"/><circle cy="200.6" r="4.5" fill="#c80032"/><circle cy="211.3" r="4.5" fill="#c80032"/></g>
<g transform="translate(205.7)"><circle cy="436.5" r="4.5"/><circle cy="400.2" r="4.5"/><circle cy="200.3" r="4.5"/><circle cy="278.3" r="4.5"/><circle cy="268.9" r="4.5"/><circle cy="210.6" r="4.5"/><circle cy="247.6" r="4.5"/><circle cy="271.4" r="4.5"/><circle cy="273.2" r="4.5"/><circle cy="201.7" r="4.5"/><circle cy="234.3" r="4.5"/><circle cy="180.9" r="4.5"/><circle cy="311.7" r="4.5"/><circle cy="333.9" r="4.5"/><circle cy="274.2" r="4.5"/><circle cy="306.6" r="4.5"/><circle cy="213.6" r="4.5"/><circle cy="344.1" r="4.5"/><circle cy="265.5" r="4.5"/><circle cy="305.9" r="4.5"/><circle cy="297.3" r="4.5"/><circle cy="231.2" r="4.5"/><circle cy="296.6" r="4.5"/><circle cy="371.7" r="4.5"/><circle cy="443.9" r="4.5"/><circle cy="449.1" r="4.5"/><circle cy="445.6" r="4.5"/><circle cy="445.0" r="4.5"/><circle cy="419.3" r="4.5"/><circle cy="369.0" r="4.5"/><circle cy="370.7" r="4.5"/><circle cy="185.8" r="4.5"/><circle cy="195.6" r="4.5"/><circle cy="204.7" r="4.5"/><circle cy="205.5" r="4.5" fill="#c80032"/><circle cy="205.7" r="4.5" fill="#c80032"/><circle cy="208.2" r="4.5" fill="#c80032"/><circle cy="211.5" r="4.5" fill="#c80032"/><circle cy="212.8" r="4.5" fill="#c80032"/><circle cy="213.0" r="4.5" fill="#c80032"/><circle cy="216.2" r="4.5" fill="#c80032"/><circle cy="217.6" r="4.5"/><circle cy="217.7" r="4.5" fill="#c80032"/><circle cy="218.2" r="4.5" fill="#c80032"/><circle cy="218.7" r="4.5" fill="#c80032"/><circle cy="221.0" r="4.5" fill="#c80032"/><circle cy="222.4" r="4.5"/><circle cy="222.9" r="4.5" fill="#c80032"/><circle cy="224.4" r="4.5"/><circle cy="225.4" r="4.5" fill="#c80032"/><circle cy="227.4" r="4.5" fill="#c80032"/><circle cy="227.8" r="4.5" fill="#c80032"/><circle cy="227.9" r="4.5" fill="#c80032"/><circle cy="229.4" r="4.5" fill="#c80032"/><circle cy="230.7" r="4.5" fill="#c80032"/><circle cy="233.8" r="4.5" fill="#c80032"/><circle cy="234.4" r="4.5" fill="#c80032"/><circle cy="235.8" r="4.5" fill="#c80032"/><circle cy="240.4" r="4.5" fill="#c80032"/><circle cy="242.3" r="4.5" fill="#c80032"/><circle cy="246.0" r="4.5" fill="#c80032"/><circle cy="246.9" r="4.5" fill="#c80032"/><circle cy="248.7" r="4.5" fill="#c80032"/><circle cy="250.0" r="4.5" fill="#c80032"/><circle cy="250.4" r="4.5" fill="#c80032"/><circle cy="250.5" r="4.5" fill="#c80032"/><circle cy="250.9" r="4.5" fill="#c80032"/><circle cy="252.9" r="4.5" fill="#c80032"/><circle cy="253.0" r="4.5" fill="#c80032"/><circle cy="253.7" r="4.5"/><circle cy="256.4" r="4.5" fill="#c80032"/><circle cy="257.1" r="4.5" fill="#c80032"/><circle cy="258.0" r="4.5" fill="#c80032"/><circle cy="258.2" r="4.5" fill="#c80032"/><circle cy="258.7" r="4.5"/><circle cy="259.8" r="4.5" fill="#c80032"/><circle cy="260.5" r="4.5" fill="#c80032"/><circle cy="260.8" r="4.5"/><circle cy="261.8" r="4.5" fill="#c80032"/><circle cy="264.2" r="4.5" fill="#c80032"/><circle cy="265.5" r="4.5" fill="#c80032"/><circle cy="268.2" r="4.5"/><circle cy="269.1" r="4.5" fill="#c80032"/><circle cy="269.1" r="4.5" fill="#c80032"/><circle cy="270.1" r="4.5" fill="#c80032"/><circle cy="271.5" r="4.5"/><circle cy="272.3" r="4.5" fill="#c80032"/><circle cy="272.3" r="4.5" fill="#c80032"/><circle cy="273.5" r="4.5" fill="#c80032"/><circle cy="273.9" r="4.5" fill="#c80032"/><circle cy="274.7" r="4.5" fill="#c80032"/><circle cy="276.0" r="4.5" fill="#c80032"/><circle cy="278.0" r="4.5" fill="#c80032"/><circle cy="279.3" r="4.5" fill="#c80032"/><circle cy="279.8" r="4.5" fill="#c80032"/><circle cy="283.1" r="4.5" fill="#c80032"/><circle cy="284.8" r="4.5" fill="#c80032"/><circle cy="285.0" r="4.5" fill="#c80032"/><circle cy="285.5" r="4.5" fill="#c80032"/><circle cy="285.8" r="4.5"/><circle cy="287.7" r="4.5" fill="#c80032"/><circle cy="288.7" r="4.5" fill="#c80032"/><circle cy="288.8" r="4.5" fill="#c80032"/><circle cy="289.5" r="4.5" fill="#c80032"/><circle cy="289.9" r="4.5" fill="#c80032"/><circle cy="289.9" r="4.5" fill="#c80032"/><circle cy="291.8" r="4.5" fill="#c80032"/><circle cy="291.8" r="4.5"/><circle cy="292.0" r="4.5" fill="#c80032"/><circle cy="292.6" r="4.5" fill="#c80032"/><circle cy="296.6" r="4.5" fill="#c80032"/><circle cy="296.8" r="4.5" fill="#c80032"/><circle cy="298.2" r="4.5" fill="#c80032"/><circle cy="298.6" r="4.5" fill="#c80032"/><circle cy="300.4" r="4.5" fill="#c80032"/><circle cy="301.2" r="4.5" fill="#c80032"/><circle cy="301.4" r="4.5" fill="#c80032"/><circle cy="302.4" r="4.5" fill="#c80032"/><circle cy="302.5" r="4.5" fill="#c80032"/><circle cy="304.1" r="4.5" fill="#c80032"/><circle cy="306.2" r="4.5" fill="#c80032"/><circle cy="306.8" r="4.5" fill="#c80032"/><circle cy="307.9" r="4.5"/><circle cy="308.6" r="4.5" fill="#c80032"/><circle cy="309.0" r="4.5" fill="#c80032"/><circle cy="309.6" r="4.5" fill="#c80032"/><circle cy="311.5" r="4.5" fill="#c80032"/><circle cy="312.3" r="4.5" fill="#c80032"/><circle cy="314.4" r="4.5" fill="#c80032"/><circle cy="314.8" r="4.5"/><circle cy="315.3" r="4.5" fill="#c80032"/><circle cy="318.0" r="4.5"/><circle cy="318.1" r="4.5" fill="#c80032"/><circle cy="319.7" r="4.5" fill="#c80032"/><circle cy="320.4" r="4.5" fill="#c80032"/><circle cy="321.7" r="4.5" fill="#c80032"/><circle cy="322.2" r="4.5" fill="#c80032"/><circle cy="322.5" r="4.5"/><circle cy="322.6" r="4.5" fill="#c80032"/><circle cy="322.7" r="4.5" fill="#c80032"/><circle cy="323.3" r="4.5" fill="#c80032"/><circle cy="325.6" r="4.5" fill="#c80032"/><circle cy="325.8" r="4.5" fill="#c80032"/><circle cy="326.5" r="4.5" fill="#c80032"/><circle cy="327.5" r="4.5" fill="#c80032"/><circle cy="327.8" r="4.5" fill="#c80032"/><circle cy="328.2" r="4.5" fill="#c80032"/><circle cy="330.0" r="4.5" fill="#c80032"/><circle cy="330.3" r="4.5" fill="#c80032"/><circle cy="331.1" r="4.5"/><circle cy="331.3" r="4.5" fill="#c80032"/><circle cy="333.2" r="4.5" fill="#c80032"/><circle cy="333.5" r="4.5" fill="#c80032"/><circle cy="334.9" r="4.5"/><circle cy="338.1" r="4.5" fill="#c80032"/><circle cy="340.9" r="4.5"/><circle cy="345.8" r="4.5" fill="#c80032"/><circle cy="349.9" r="4.5" fill="#c80032"/><circle cy="351.2" r="4.5" fill="#c80032"/><circle cy="351.6" r="4.5"/><circle cy="356.2" r="4.5" fill="#c80032"/><circle cy="357.0" r="4.5" fill="#c80032"/><circle cy="370.3" r="4.5" fill="#c80032"/><circle cy="388.8" r="4.5" fill="#c80032"/><circle cy="181.6" r="4.5" fill="#c80032"/><circle cy="326.2" r="4.5"/><circle cy="223.0" r="4.5" fill="#c80032"/><circle cy="213.8" r="4.5" fill="#c80032"/><circle cy="275.3" r="4.5" fill="#c80032"/><circle cy="244.7" r="4.5" fill="#c80032"/><circle cy="294.4" r="4.5" fill="#c80032"/><circle cy="263.4" r="4.5" fill="#c80032"/><circle cy="283.9" r="4.5" fill="#c80032"/><circle cy="204.9" r="4.5" fill="#c80032"/><circle cy="345.9" r="4.5" fill="#c80032"/><circle cy="303.6" r="4.5" fill="#c80032"/><circle cy="370.8" r="4.5" fill="#c80032"/><circle cy="233.2" r="4.5" fill="#c80032"/><circle cy="324.7" r="4.5" fill="#c80032"/><circle cy="313.3" r="4.5" fill="#c80032"/><circle cy="336.5" r="4.5" fill="#c80032"/><circle cy="385.1" r="4.5" fill="#c80032"/><circle cy="356.3" r="4.5" fill="#c80032"/><circle cy="253.3" r="4.5" fill="#c80032"/><circle cy="463.7" r="4.5"/><circle cy="443.3" r="4.5"/><circle cy="172.4" r="4.5"/><circle cy="179.5" r="4.5"/><circle cy="185.9" r="4.5"/><circle cy="203.7" r="4.5"/><circle cy="450.2" r="4.5" fill="#c80032"/><circle cy="471.3" r="4.5" fill="#c80032"/><circle cy="478.9" r="4.5" fill="#c80032"/><circle cy="392.5" r="4.5" fill="#c80032"/><circle cy="429.9" r="4.5" fill="#c80032"/><circle cy="196.5" r="4.5" fill="#c80032"/><circle cy="212.5" r="4.5" fill="#c80032"/></g>
<g transform="translate(216.1)"><circle cy="390.0" r="4.5"/><circle cy="318.9" r="4.5"/><circle cy="354.0" r="4.5"/><circle cy="234.1" r="4.5"/><circle cy="216.3" r="4.5"/><circle cy="318.9" r="4.5"/><circle cy="339.2" r="4.5"/><circle cy="235.9" r="4.5"/><circle cy="280.2" r="4.5"/><circle cy="357.8" r="4.5"/><circle cy="340.1" r="4.5"/><circle cy="283.5" r="4.5"/><circle cy="292.3" r="4.5"/><circle cy="280.8" r="4.5"/><circle cy="277.2" r="4.5"/><circle cy="247.2" r="4.5"/><circle cy="358.7" r="4.5"/><circle cy="316.6" r="4.5"/><circle cy="267.4" r="4.5"/><circle cy="219.1" r="4.5"/><circle cy="197.2" r="4.5"/><circle cy="394.1" r="4.5"/><circle cy="405.4" r="4.5"/><circle cy="431.6" r="4.5"/><circle cy="445.2" r="4.5"/><circle cy="371.0" r="4.5"/><circle cy="415.9" r="4.5"/><circle cy="434.1" r="4.5"/><circle cy="193.2" r="4.5"/><circle cy="200.3" r="4.5"/><circle cy="204.5" r="4.5"/><circle cy="204.6" r="4.5"/><circle cy="204.7" r="4.5" fill="#c80032"/><circle cy="206.3" r="4.5" fill="#c80032"/><circle cy="209.7" r="4.5" fill="#c80032"/><circle cy="213.6" r="4.5" fill="#c80032"/><circle cy="214.7" r="4.5"/><circle cy="215.3" r="4.5"/><circle cy="217.2" r="4.5" fill="#c80032"/><circle cy="217.3" r="4.5" fill="#c80032"/><circle cy="217.6" r="4.5" fill="#c80032"/><circle cy="220.1" r="4.5" fill="#c80032"/><circle cy="221.0" r="4.5" fill="#c80032"/><circle cy="221.7" r="4.5"/><circle cy="224.1" r="4.5" fill="#c80032"/><circle cy="225.6" r="4.5" fill="#c80032"/><circle cy="226.1" r="4.5" fill="#c80032"/><circle cy="226.4" r="4.5" fill="#c80032"/><circle cy="227.5" r="4.5" fill="#c80032"/><circle cy="228.6" r="4.5" fill="#c80032"/><circle cy="228.9" r="4.5" fill="#c80032"/><circle cy="231.2" r="4.5" fill="#c80032"/><circle cy="232.3" r="4.5" fill="#c80032"/><circle cy="233.4" r="4.5"/><circle cy="235.6" r="4.5"/><circle cy="237.4" r="4.5" fill="#c80032"/><circle cy="238.6" r="4.5" fill="#c80032"/><circle cy="238.7" r="4.5" fill="#c80032"/><circle cy="240.2" r="4.5" fill="#c80032"/><circle cy="241.0" r="4.5" fill="#c80032"/><circle cy="244.0" r="4.5"/><circle cy="245.4" r="4.5" fill="#c80032"/><circle cy="245.6" r="4.5" fill="#c80032"/><circle cy="246.0" r="4.5" fill="#c80032"/><circle cy="247.3" r="4.5"/><circle cy="248.6" r="4.5" fill="#c80032"/><circle cy="254.8" r="4.5" fill="#c80032"/><circle cy="255.1" r="4.5" fill="#c80032"/><circle cy="256.6" r="4.5" fill="#c80032"/><circle cy="256.8" r="4.5" fill="#c80032"/><circle cy="259.0" r="4.5" fill="#c80032"/><circle cy="262.0" r="4.5" fill="#c80032"/><circle cy="262.1" r="4.5" fill="#c80032"/><circle cy="264.2" r="4.5" fill="#c80032"/><circle cy="264.7" r="4.5" fill="#c80032"/><circle cy="265.2" r="4.5"/><circle cy="268.9" r="4.5"/><circle cy="269.6" r="4.5" fill="#c80032"/><circle cy="270.5" r="4.5" fill="#c80032"/><circle cy="271.8" r="4.5" fill="#c80032"/><circle cy="273.4" r="4.5" fill="#c80032"/><circle cy="273.4" r="4.5" fill="#c80032"/><circle cy="273.6" r="4.5" fill="#c80032"/><circle cy="274.8" r="4.5" fill="#c80032"/><circle cy="277.0" r="4.5" fill="#c80032"/><circle cy="277.9" r="4.5" fill="#c80032"/><circle cy="278.9" r="4.5" fill="#c80032"/><circle cy="279.9" r="4.5" fill="#c80032"/><circle cy="280.0" r="4.5" fill="#c80032"/><circle cy="280.5" r="4.5" fill="#c80032"/><circle cy="282.4" r="4.5" fill="#c80032"/><circle cy="282.9" r="4.5" fill="#c80032"/><circle cy="283.9" r="4.5" fill="#c80032"/><circle cy="284.9" r="4.5" fill="#c80032"/><circle cy="285.2" r="4.5" fill="#c80032"/><circle cy="286.2" r="4.5" fill="#c80032"/><circle cy="286.4" r="4.5" fill="#c80032"/><circle cy="286.6" r="4.5" fill="#c80032"/><circle cy="288.5" r="4.5" fill="#c80032"/><circle cy="288.8" r="4.5" fill="#c80032"/><circle cy="295.6" r="4.5" fill="#c80032"/><circle cy="298.1" r="4.5" fill="#c80032"/><circle cy="298.7" r="4.5" fill="#c80032"/><circle cy="299.1" r="4.5" fill="#c80032"/><circle cy="300.2" r="4.5"/><circle cy="301.1" r="4.5" fill="#c80032"/><circle cy="303.0" r="4.5" fill="#c80032"/><circle cy="304.3" r="4.5" fill="#c80032"/><circle cy="304.3" r="4.5" fill="#c80032"/><circle cy="306.6" r="4.5" fill="#c80032"/><circle cy="307.7" r="4.5" fill="#c80032"/><circle cy="308.2" r="4.5" fill="#c80032"/><circle cy="309.0" r="4.5" fill="#c80032"/><circle cy="309.3" r="4.5" fill="#c80032"/><circle cy="309.4" r="4.5" fill="#c80032"/><circle cy="314.3" r="4.5" fill="#c80032"/><circle cy="315.0" r="4.5" fill="#c80032"/><circle cy="317.1" r="4.5" fill="#c80032"/><circle cy="322.6" r="4.5" fill="#c80032"/><circle cy="322.6" r="4.5" fill="#c80032"/><circle cy="323.4" r="4.5" fill="#c80032"/><circle cy="329.4" r="4.5" fill="#c80032"/><circle cy="330.0" r="4.5" fill="#c80032"/><circle cy="331.2" r="4.5" fill="#c80032"/><circle cy="331.6" r="4.5" fill="#c80032"/><circle cy="332.6" r="4.5" fill="#c80032"/><circle cy="332.9" r="4.5" fill="#c80032"/><circle cy="333.6" r="4.5" fill="#c80032"/><circle cy="334.5" r="4.5" fill="#c80032"/><circle cy="336.1" r="4.5" fill="#c80032"/><circle cy="336.5" r="4.5" fill="#c80032"/><circle cy="338.4" r="4.5" fill="#c80032"/><circle cy="339.3" r="4.5" fill="#c80032"/><circle cy="347.7" r="4.5" fill="#c80032"/><circle cy="363.0" r="4.5" fill="#c80032"/><circle cy="389.0" r="4.5" fill="#c80032"/><circle cy="188.6" r="4.5" fill="#c80032"/><circle cy="263.4" r="4.5"/><circle cy="340.7" r="4.5" fill="#c80032"/><circle cy="377.7" r="4.5" fill="#c80032"/><circle cy="300.7" r="4.5" fill="#c80032"/><circle cy="311.2" r="4.5" fill="#c80032"/><circle cy="351.2" r="4.5" fill="#c80032"/><circle cy="331.9" r="4.5" fill="#c80032"/><circle cy="322.2" r="4.5" fill="#c80032"/><circle cy="244.0" r="4.5" fill="#c80032"/><circle cy="203.6" r="4.5" fill="#c80032"/><circle cy="233.3" r="4.5" fill="#c80032"/><circle cy="364.5" r="4.5" fill="#c80032"/><circle cy="267.9" r="4.5" fill="#c80032"/><circle cy="289.3" r="4.5" fill="#c80032"/><circle cy="256.2" r="4.5" fill="#c80032"/><circle cy="390.9" r="4.5" fill="#c80032"/><circle cy="277.0" r="4.5" fill="#c80032"/><circle cy="223.3" r="4.5" fill="#c80032"/><circle cy="213.9" r="4.5" fill="#c80032"/><circle cy="451.0" r="4.5"/><circle cy="464.2" r="4.5"/><circle cy="177.0" r="4.5"/><circle cy="173.7" r="4.5"/><circle cy="198.6" r="4.5"/><circle cy="204.9" r="4.5"/><circle cy="448.9" r="4.5" fill="#c80032"/><circle cy="406.5" r="4.5" fill="#c80032"/><circle cy="414.1" r="4.5" fill="#c80032"/><circle cy="420.5" r="4.5" fill="#c80032"/><circle cy="426.8" r="4.5" fill="#c80032"/><circle cy="434.4" r="4.5" fill="#c80032"/><circle cy="192.2" r="4.5" fill="#c80032"/><circle cy="212.5" r="4.5" fill="#c80032"/></g>
<g transform="translate(226.6)"><circle cy="421.7" r="4.5"/><circle cy="294.0" r="4.5"/><circle cy="227.5" r="4.5"/><circle cy="314.5" r="4.5"/><circle cy="358.4" r="4.5"/><circle cy="334.4" r="4.5"/><circle cy="202.4" r="4.5"/><circle cy="190.7" r="4.5"/><circle cy="188.2" r="4.5"/><circle cy="341.0" r="4.5"/><circle cy="323.7" r="4.5"/><circle cy="287.2" r="4.5"/><circle cy="241.0" r="4.5"/><circle cy="264.8" r="4.5"/><circle cy="335.8" r="4.5"/><circle cy="281.1" r="4.5"/><circle cy="224.1" r="4.5"/><circle cy="310.0" r="4.5"/><circle cy="218.2" r="4.5"/><circle cy="427.5" r="4.5"/><circle cy="398.7" r="4.5"/><circle cy="407.6" r="4.5"/><circle cy="361.7" r="4.5"/><circle cy="433.2" r="4.5"/><circle cy="189.0" r="4.5"/><circle cy="197.0" r="4.5"/><circle cy="203.5" r="4.5"/><circle cy="204.4" r="4.5" fill="#c80032"/><circle cy="206.8" r="4.5" fill="#c80032"/><circle cy="207.3" r="4.5"/><circle cy="214.7" r="4.5" fill="#c80032"/><circle cy="215.7" r="4.5" fill="#c80032"/><circle cy="216.4" r="4.5" fill="#c80032"/><circle cy="216.5" r="4.5" fill="#c80032"/><circle cy="219.9" r="4.5" fill="#c80032"/><circle cy="220.7" r="4.5" fill="#c80032"/><circle cy="221.4" r="4.5" fill="#c80032"/><circle cy="222.5" r="4.5" fill="#c80032"/><circle cy="226.4" r="4.5"/><circle cy="227.1" r="4.5" fill="#c80032"/><circle cy="229.3" r="4.5" fill="#c80032"/><circle cy="230.7" r="4.5" fill="#c80032"/><circle cy="233.0" r="4.5" fill="#c80032"/><circle cy="234.7" r="4.5" fill="#c80032"/><circle cy="235.7" r="4.5" fill="#c80032"/><circle cy="235.8" r="4.5" fill="#c80032"/><circle cy="237.4" r="4.5" fill="#c80032"/><circle cy="238.3" r="4.5" fill="#c80032"/><circle cy="240.8" r="4.5" fill="#c80032"/><circle cy="242.3" r="4.5" fill="#c80032"/><circle cy="244.7" r="4.5" fill="#c80032"/><circle cy="245.9" r="4.5" fill="#c80032"/><circle cy="247.4" r="4.5" fill="#c80032"/><circle cy="248.4" r="4.5"/><circle cy="249.7" r="4.5" fill="#c80032"/><circle cy="250.9" r="4.5"/><circle cy="252.4" r="4.5" fill="#c80032"/><circle cy="253.7" r="4.5" fill="#c80032"/><circle cy="256.4" r="4.5" fill="#c80032"/><circle cy="259.2" r="4.5" fill="#c80032"/><circle cy="260.2" r="4.5" fill="#c80032"/><circle cy="261.8" r="4.5" fill="#c80032"/><circle cy="262.9" r="4.5" fill="#c80032"/><circle cy="263.8" r="4.5" fill="#c80032"/><circle cy="263.9" r="4.5" fill="#c80032"/><circle cy="268.0" r="4.5" fill="#c80032"/><circle cy="269.4" r="4.5" fill="#c80032"/><circle cy="269.5" r="4.5" fill="#c80032"/><circle cy="271.3" r="4.5" fill="#c80032"/><circle cy="272.4" r="4.5" fill="#c80032"/><circle cy="276.6" r="4.5" fill="#c80032"/><circle cy="280.8" r="4.5"/><circle cy="281.1" r="4.5" fill="#c80032"/><circle cy="282.4" r="4.5"/><circle cy="283.9" r="4.5" fill="#c80032"/><circle cy="284.0" r="4.5" fill="#c80032"/><circle cy="288.0" r="4.5" fill="#c80032"/><circle cy="289.0" r="4.5" fill="#c80032"/><circle cy="290.3" r="4.5" fill="#c80032"/><circle cy="290.7" r="4.5" fill="#c80032"/><circle cy="291.2" r="4.5" fill="#c80032"/><circle cy="292.2" r="4.5" fill="#c80032"/><circle cy="295.2" r="4.5" fill="#c80032"/><circle cy="296.6" r="4.5" fill="#c80032"/><circle cy="296.8" r="4.5" fill="#c80032"/><circle cy="296.9" r="4.5" fill="#c80032"/><circle cy="299.8" r="4.5" fill="#c80032"/><circle cy="300.1" r="4.5" fill="#c80032"/><circle cy="300.9" r="4.5" fill="#c80032"/><circle cy="302.2" r="4.5" fill="#c80032"/><circle cy="307.8" r="4.5" fill="#c80032"/><circle cy="312.0" r="4.5" fill="#c80032"/><circle cy="312.5" r="4.5" fill="#c80032"/><circle cy="314.9" r="4.5" fill="#c80032"/><circle cy="319.8" r="4.5" fill="#c80032"/><circle cy="322.4" r="4.5" fill="#c80032"/><circle cy="324.1" r="4.5" fill="#c80032"/><circle cy="325.7" r="4.5" fill="#c80032"/><circle cy="326.6" r="4.5"/><circle cy="328.1" r="4.5" fill="#c80032"/><circle cy="329.5" r="4.5" fill="#c80032"/><circle cy="329.6" r="4.5" fill="#c80032"/><circle cy="330.4" r="4.5" fill="#c80032"/><circle cy="340.1" r="4.5" fill="#c80032"/><circle cy="340.8" r="4.5" fill="#c80032"/><circle cy="342.9" r="4.5" fill="#c80032"/><circle cy="345.6" r="4.5" fill="#c80032"/><circle cy="348.7" r="4.5" fill="#c80032"/><circle cy="348.9" r="4.5" fill="#c80032"/><circle cy="351.4" r="4.5" fill="#c80032"/><circle cy="352.5" r="4.5" fill="#c80032"/><circle cy="358.9" r="4.5" fill="#c80032"/><circle cy="382.4" r="4.5" fill="#c80032"/><circle cy="387.0" r="4.5" fill="#c80032"/><circle cy="202.8" r="4.5" fill="#c80032"/><circle cy="370.3" r="4.5"/><circle cy="224.4" r="4.5"/><circle cy="285.9" r="4.5" fill="#c80032"/><circle cy="206.0" r="4.5" fill="#c80032"/><circle cy="215.7" r="4.5" fill="#c80032"/><circle cy="317.8" r="4.5" fill="#c80032"/><circle cy="256.2" r="4.5" fill="#c80032"/><circle cy="328.5" r="4.5" fill="#c80032"/><circle cy="350.4" r="4.5" fill="#c80032"/><circle cy="235.6" r="4.5" fill="#c80032"/><circle cy="363.8" r="4.5" fill="#c80032"/><circle cy="339.3" r="4.5" fill="#c80032"/><circle cy="265.8" r="4.5" fill="#c80032"/><circle cy="298.4" r="4.5" fill="#c80032"/><circle cy="380.5" r="4.5" fill="#c80032"/><circle cy="275.9" r="4.5" fill="#c80032"/><circle cy="307.8" r="4.5" fill="#c80032"/><circle cy="246.0" r="4.5" fill="#c80032"/><circle cy="226.2" r="4.5" fill="#c80032"/><circle cy="178.3" r="4.5"/><circle cy="189.7" r="4.5"/><circle cy="198.6" r="4.5"/><circle cy="460.1" r="4.5" fill="#c80032"/><circle cy="478.9" r="4.5" fill="#c80032"/><circle cy="395.1" r="4.5" fill="#c80032"/><circle cy="407.3" r="4.5" fill="#c80032"/><circle cy="414.9" r="4.5" fill="#c80032"/><circle cy="428.6" r="4.5" fill="#c80032"/><circle cy="180.8" r="4.5" fill="#c80032"/><circle cy="208.7" r="4.5" fill="#c80032"/><circle cy="216.3" r="4.5" fill="#c80032"/></g>
<g transform="translate(237.0)"><circle cy="393.8" r="4.5"/><circle cy="298.0" r="4.5"/><circle cy="343.9" r="4.5"/><circle cy="328.1" r="4.5"/><circle cy="293.6" r="4.5"/><circle cy="320.2" r="4.5"/><circle cy="327.9" r="4.5"/><circle cy="308.2" r="4.5"/><circle cy="332.0" r="4.5"/><circle cy="291.6" r="4.5"/><circle cy="292.6" r="4.5"/><circle cy="247.2" r="4.5"/><circle cy="221.2" r="4.5"/><circle cy="254.9" r="4.5"/><circle cy="304.9" r="4.5"/><circle cy="246.4" r="4.5"/><circle cy="301.7" r="4.5"/><circle cy="315.7" r="4.5"/><circle cy="442.7" r="4.5"/><circle cy="420.6" r="4.5"/><circle cy="443.0" r="4.5"/><circle cy="403.6" r="4.5"/><circle cy="190.4" r="4.5"/><circle cy="198.1" r="4.5"/><circle cy="204.8" r="4.5" fill="#c80032"/><circle cy="205.8" r="4.5" fill="#c80032"/><circle cy="208.7" r="4.5"/><circle cy="209.3" r="4.5" fill="#c80032"/><circle cy="212.0" r="4.5" fill="#c80032"/><circle cy="217.2" r="4.5" fill="#c80032"/><circle cy="218.8" r="4.5" fill="#c80032"/><circle cy="219.6" r="4.5" fill="#c80032"/><circle cy="219.9" r="4.5" fill="#c80032"/><circle cy="220.3" r="4.5"/><circle cy="227.4" r="4.5" fill="#c80032"/><circle cy="244.2" r="4.5" fill="#c80032"/><circle cy="244.2" r="4.5" fill="#c80032"/><circle cy="248.3" r="4.5" fill="#c80032"/><circle cy="249.3" r="4.5" fill="#c80032"/><circle cy="250.2" r="4.5" fill="#c80032"/><circle cy="251.3" r="4.5" fill="#c80032"/><circle cy="252.4" r="4.5" fill="#c80032"/><circle cy="253.7" r="4.5" fill="#c80032"/><circle cy="254.6" r="4.5" fill="#c80032"/><circle cy="254.7" r="4.5" fill="#c80032"/><circle cy="260.1" r="4.5" fill="#c80032"/><circle cy="264.1" r="4.5" fill="#c80032"/><circle cy="264.4" r="4.5" fill="#c80032"/><circle cy="265.9" r="4.5" fill="#c80032"/><circle cy="270.3" r="4.5" fill="#c80032"/><circle cy="271.0" r="4.5" fill="#c80032"/><circle cy="274.1" r="4.5" fill="#c80032"/><circle cy="276.6" r="4.5" fill="#c80032"/><circle cy="285.4" r="4.5" fill="#c80032"/><circle cy="286.4" r="4.5" fill="#c80032"/><circle cy="288.3" r="4.5" fill="#c80032"/><circle cy="289.5" r="4.5" fill="#c80032"/><circle cy="291.0" r="4.5" fill="#c80032"/><circle cy="291.5" r="4.5" fill="#c80032"/><circle cy="294.5" r="4.5" fill="#c80032"/><circle cy="294.8" r="4.5" fill="#c80032"/><circle cy="296.3" r="4.5" fill="#c80032"/><circle cy="296.4" r="4.5" fill="#c80032"/><circle cy="300.3" r="4.5" fill="#c80032"/><circle cy="300.5" r="4.5" fill="#c80032"/><circle cy="301.4" r="4.5" fill="#c80032"/><circle cy="303.2" r="4.5" fill="#c80032"/><circle cy="307.9" r="4.5" fill="#c80032"/><circle cy="309.3" r="4.5" fill="#c80032"/><circle cy="311.2" r="4.5"/><circle cy="317.4" r="4.5" fill="#c80032"/><circle cy="318.4" r="4.5" fill="#c80032"/><circle cy="321.4" r="4.5" fill="#c80032"/><circle cy="323.3" r="4.5" fill="#c80032"/><circle cy="323.7" r="4.5" fill="#c80032"/><circle cy="331.6" r="4.5" fill="#c80032"/><circle cy="370.1" r="4.5" fill="#c80032"/><circle cy="374.7" r="4.5" fill="#c80032"/><circle cy="198.2" r="4.5" fill="#c80032"/><circle cy="261.4" r="4.5"/><circle cy="236.7" r="4.5"/><circle cy="273.4" r="4.5" fill="#c80032"/><circle cy="294.4" r="4.5"/><circle cy="261.2" r="4.5" fill="#c80032"/><circle cy="206.8" r="4.5" fill="#c80032"/><circle cy="319.8" r="4.5" fill="#c80032"/><circle cy="341.6" r="4.5" fill="#c80032"/><circle cy="307.4" r="4.5" fill="#c80032"/><circle cy="330.7" r="4.5" fill="#c80032"/><circle cy="248.8" r="4.5" fill="#c80032"/><circle cy="355.8" r="4.5" fill="#c80032"/><circle cy="285.3" r="4.5" fill="#c80032"/><circle cy="216.5" r="4.5" fill="#c80032"/><circle cy="226.1" r="4.5" fill="#c80032"/><circle cy="295.2" r="4.5" fill="#c80032"/><circle cy="374.1" r="4.5" fill="#c80032"/><circle cy="147.8" r="4.5"/><circle cy="180.8" r="4.5"/><circle cy="189.7" r="4.5"/><circle cy="194.8" r="4.5"/><circle cy="447.9" r="4.5" fill="#c80032"/><circle cy="444.6" r="4.5" fill="#c80032"/><circle cy="419.7" r="4.5" fill="#c80032"/><circle cy="429.4" r="4.5" fill="#c80032"/><circle cy="436.2" r="4.5" fill="#c80032"/><circle cy="174.4" r="4.5" fill="#c80032"/><circle cy="204.9" r="4.5" fill="#c80032"/><circle cy="211.3" r="4.5" fill="#c80032"/><circle cy="220.2" r="4.5" fill="#c80032"/></g>
<g transform="translate(247.4)"><circle cy="439.5" r="4.5"/><circle cy="257.2" r="4.5"/><circle cy="202.5" r="4.5"/><circle cy="257.3" r="4.5"/><circle cy="267.6" r="4.5"/><circle cy="336.4" r="4.5"/><circle cy="318.2" r="4.5"/><circle cy="231.4" r="4.5"/><circle cy="261.7" r="4.5"/><circle cy="346.9" r="4.5"/><circle cy="298.3" r="4.5"/><circle cy="349.5" r="4.5"/><circle cy="273.3" r="4.5"/><circle cy="217.1" r="4.5"/><circle cy="358.3" r="4.5"/><circle cy="307.0" r="4.5"/><circle cy="352.1" r="4.5"/><circle cy="436.7" r="4.5"/><circle cy="447.4" r="4.5"/><circle cy="442.4" r="4.5"/><circle cy="179.8" r="4.5"/><circle cy="196.2" r="4.5"/><circle cy="206.4" r="4.5" fill="#c80032"/><circle cy="206.9" r="4.5" fill="#c80032"/><circle cy="210.1" r="4.5" fill="#c80032"/><circle cy="210.1" r="4.5" fill="#c80032"/><circle cy="216.2" r="4.5" fill="#c80032"/><circle cy="217.6" r="4.5" fill="#c80032"/><circle cy="218.3" r="4.5" fill="#c80032"/><circle cy="221.2" r="4.5" fill="#c80032"/><circle cy="235.4" r="4.5" fill="#c80032"/><circle cy="237.2" r="4.5"/><circle cy="237.6" r="4.5" fill="#c80032"/><circle cy="240.2" r="4.5" fill="#c80032"/><circle cy="242.2" r="4.5" fill="#c80032"/><circle cy="254.5" r="4.5" fill="#c80032"/><circle cy="256.3" r="4.5" fill="#c80032"/><circle cy="268.5" r="4.5" fill="#c80032"/><circle cy="270.7" r="4.5" fill="#c80032"/><circle cy="273.7" r="4.5" fill="#c80032"/><circle cy="278.2" r="4.5" fill="#c80032"/><circle cy="279.3" r="4.5"/><circle cy="280.7" r="4.5" fill="#c80032"/><circle cy="291.6" r="4.5" fill="#c80032"/><circle cy="295.1" r="4.5" fill="#c80032"/><circle cy="299.5" r="4.5" fill="#c80032"/><circle cy="305.2" r="4.5" fill="#c80032"/><circle cy="306.7" r="4.5" fill="#c80032"/><circle cy="307.6" r="4.5" fill="#c80032"/><circle cy="308.9" r="4.5" fill="#c80032"/><circle cy="310.9" r="4.5" fill="#c80032"/><circle cy="313.9" r="4.5" fill="#c80032"/><circle cy="321.9" r="4.5" fill="#c80032"/><circle cy="324.2" r="4.5"/><circle cy="326.7" r="4.5" fill="#c80032"/><circle cy="369.2" r="4.5"/><circle cy="196.4" r="4.5" fill="#c80032"/><circle cy="225.6" r="4.5"/><circle cy="238.3" r="4.5"/><circle cy="307.7" r="4.5"/><circle cy="372.6" r="4.5"/><circle cy="391.9" r="4.5" fill="#c80032"/><circle cy="354.5" r="4.5" fill="#c80032"/><circle cy="349.0" r="4.5"/><circle cy="248.9" r="4.5" fill="#c80032"/><circle cy="319.3" r="4.5" fill="#c80032"/><circle cy="217.1" r="4.5" fill="#c80032"/><circle cy="262.1" r="4.5" fill="#c80032"/><circle cy="297.6" r="4.5" fill="#c80032"/><circle cy="329.9" r="4.5" fill="#c80032"/><circle cy="204.9" r="4.5" fill="#c80032"/><circle cy="228.2" r="4.5" fill="#c80032"/><circle cy="285.4" r="4.5" fill="#c80032"/><circle cy="340.4" r="4.5" fill="#c80032"/><circle cy="274.1" r="4.5" fill="#c80032"/><circle cy="149.0" r="4.5"/><circle cy="153.4" r="4.5"/><circle cy="160.5" r="4.5"/><circle cy="167.6" r="4.5"/><circle cy="187.1" r="4.5"/><circle cy="194.8" r="4.5"/><circle cy="206.2" r="4.5"/><circle cy="212.5" r="4.5"/><circle cy="447.1" r="4.5" fill="#c80032"/><circle cy="451.0" r="4.5" fill="#c80032"/><circle cy="454.8" r="4.5" fill="#c80032"/><circle cy="466.7" r="4.5" fill="#c80032"/><circle cy="392.5" r="4.5" fill="#c80032"/><circle cy="407.8" r="4.5" fill="#c80032"/><circle cy="414.1" r="4.5" fill="#c80032"/><circle cy="176.2" r="4.5" fill="#c80032"/><circle cy="221.4" r="4.5" fill="#c80032"/><circle cy="231.6" r="4.5" fill="#c80032"/></g>
<g transform="translate(257.9)"><circle cy="282.0" r="4.5"/><circle cy="354.9" r="4.5"/><circle cy="234.8" r="4.5"/><circle cy="313.7" r="4.5"/><circle cy="286.0" r="4.5"/><circle cy="320.5" r="4.5"/><circle cy="353.5" r="4.5"/><circle cy="312.8" r="4.5"/><circle cy="253.6" r="4.5"/><circle cy="309.5" r="4.5"/><circle cy="292.8" r="4.5"/><circle cy="442.5" r="4.5"/><circle cy="382.9" r="4.5"/><circle cy="416.7" r="4.5"/><circle cy="233.2" r="4.5"/><circle cy="234.1" r="4.5" fill="#c80032"/><circle cy="237.0" r="4.5" fill="#c80032"/><circle cy="238.4" r="4.5" fill="#c80032"/><circle cy="252.2" r="4.5" fill="#c80032"/><circle cy="256.6" r="4.5" fill="#c80032"/><circle cy="259.3" r="4.5" fill="#c80032"/><circle cy="270.2" r="4.5" fill="#c80032"/><circle cy="272.7" r="4.5" fill="#c80032"/><circle cy="273.9" r="4.5" fill="#c80032"/><circle cy="277.9" r="4.5" fill="#c80032"/><circle cy="279.1" r="4.5" fill="#c80032"/><circle cy="281.8" r="4.5" fill="#c80032"/><circle cy="284.0" r="4.5" fill="#c80032"/><circle cy="284.9" r="4.5" fill="#c80032"/><circle cy="293.0" r="4.5" fill="#c80032"/><circle cy="293.0" r="4.5" fill="#c80032"/><circle cy="295.4" r="4.5" fill="#c80032"/><circle cy="300.0" r="4.5" fill="#c80032"/><circle cy="355.9" r="4.5" fill="#c80032"/><circle cy="382.7" r="4.5"/><circle cy="309.5" r="4.5"/><circle cy="302.5" r="4.5"/><circle cy="290.3" r="4.5"/><circle cy="231.4" r="4.5"/><circle cy="277.0" r="4.5" fill="#c80032"/><circle cy="241.9" r="4.5" fill="#c80032"/><circle cy="282.1" r="4.5"/><circle cy="351.4" r="4.5" fill="#c80032"/><circle cy="366.0" r="4.5" fill="#c80032"/><circle cy="323.9" r="4.5" fill="#c80032"/><circle cy="337.5" r="4.5" fill="#c80032"/><circle cy="255.2" r="4.5" fill="#c80032"/><circle cy="267.0" r="4.5" fill="#c80032"/><circle cy="314.0" r="4.5" fill="#c80032"/><circle cy="396.3" r="4.5"/><circle cy="420.5" r="4.5"/><circle cy="152.1" r="4.5"/><circle cy="183.3" r="4.5"/><circle cy="204.9" r="4.5"/><circle cy="211.3" r="4.5"/><circle cy="444.1" r="4.5" fill="#c80032"/><circle cy="411.6" r="4.5" fill="#c80032"/><circle cy="428.1" r="4.5" fill="#c80032"/><circle cy="186.4" r="4.5" fill="#c80032"/><circle cy="198.1" r="4.5" fill="#c80032"/><circle cy="227.8" r="4.5" fill="#c80032"/></g>
<g transform="translate(268.3)"><circle cy="295.9" r="4.5"/><circle cy="358.6" r="4.5"/><circle cy="343.4" r="4.5"/><circle cy="286.5" r="4.5"/><circle cy="335.7" r="4.5"/><circle cy="316.8" r="4.5"/><circle cy="334.7" r="4.5"/><circle cy="359.7" r="4.5"/><circle cy="239.3" r="4.5"/><circle cy="257.6" r="4.5"/><circle cy="380.9" r="4.5"/><circle cy="433.7" r="4.5"/><circle cy="242.4" r="4.5" fill="#c80032"/><circle cy="245.6" r="4.5" fill="#c80032"/><circle cy="251.8" r="4.5" fill="#c80032"/><circle cy="262.5" r="4.5" fill="#c80032"/><circle cy="263.0" r="4.5" fill="#c80032"/><circle cy="264.6" r="4.5" fill="#c80032"/><circle cy="271.4" r="4.5" fill="#c80032"/><circle cy="273.1" r="4.5" fill="#c80032"/><circle cy="280.6" r="4.5" fill="#c80032"/><circle cy="281.1" r="4.5" fill="#c80032"/><circle cy="287.8" r="4.5" fill="#c80032"/><circle cy="296.0" r="4.5" fill="#c80032"/><circle cy="296.9" r="4.5" fill="#c80032"/><circle cy="299.9" r="4.5" fill="#c80032"/><circle cy="304.6" r="4.5" fill="#c80032"/><circle cy="306.2" r="4.5" fill="#c80032"/><circle cy="344.8" r="4.5" fill="#c80032"/><circle cy="380.9" r="4.5" fill="#c80032"/><circle cy="376.3" r="4.5"/><circle cy="344.9" r="4.5"/><circle cy="331.8" r="4.5" fill="#c80032"/><circle cy="267.8" r="4.5" fill="#c80032"/><circle cy="318.1" r="4.5" fill="#c80032"/><circle cy="282.1" r="4.5"/><circle cy="318.8" r="4.5"/><circle cy="307.1" r="4.5" fill="#c80032"/><circle cy="357.8" r="4.5" fill="#c80032"/><circle cy="232.1" r="4.5" fill="#c80032"/><circle cy="242.5" r="4.5" fill="#c80032"/><circle cy="299.7" r="4.5"/><circle cy="256.1" r="4.5" fill="#c80032"/><circle cy="292.7" r="4.5" fill="#c80032"/><circle cy="451.0" r="4.5"/><circle cy="399.7" r="4.5"/><circle cy="427.6" r="4.5"/><circle cy="171.9" r="4.5"/><circle cy="222.7" r="4.5"/><circle cy="444.6" r="4.5" fill="#c80032"/><circle cy="468.2" r="4.5" fill="#c80032"/><circle cy="390.0" r="4.5" fill="#c80032"/><circle cy="417.4" r="4.5" fill="#c80032"/><circle cy="423.0" r="4.5" fill="#c80032"/><circle cy="193.5" r="4.5" fill="#c80032"/><circle cy="202.4" r="4.5" fill="#c80032"/><circle cy="216.3" r="4.5" fill="#c80032"/><circle cy="232.9" r="4.5" fill="#c80032"/></g>
<g transform="translate(278.7)"><circle cy="318.1" r="4.5"/><circle cy="259.7" r="4.5"/><circle cy="257.5" r="4.5"/><circle cy="359.1" r="4.5"/><circle cy="354.6" r="4.5"/><circle cy="231.9" r="4.5"/><circle cy="339.9" r="4.5"/><circle cy="314.0" r="4.5"/><circle cy="284.5" r="4.5"/><circle cy="411.8" r="4.5"/><circle cy="370.3" r="4.5"/><circle cy="231.6" r="4.5" fill="#c80032"/><circle cy="232.4" r="4.5" fill="#c80032"/><circle cy="262.1" r="4.5" fill="#c80032"/><circle cy="267.2" r="4.5"/><circle cy="276.7" r="4.5"/><circle cy="346.6" r="4.5" fill="#c80032"/><circle cy="380.5" r="4.5" fill="#c80032"/><circle cy="269.4" r="4.5"/><circle cy="415.0" r="4.5"/><circle cy="255.0" r="4.5"/><circle cy="342.6" r="4.5"/><circle cy="370.2" r="4.5" fill="#c80032"/><circle cy="280.2" r="4.5" fill="#c80032"/><circle cy="354.3" r="4.5" fill="#c80032"/><circle cy="244.5" r="4.5" fill="#c80032"/><circle cy="318.1" r="4.5" fill="#c80032"/><circle cy="305.8" r="4.5" fill="#c80032"/><circle cy="331.7" r="4.5" fill="#c80032"/><circle cy="291.6" r="4.5" fill="#c80032"/><circle cy="392.5" r="4.5" fill="#c80032"/><circle cy="267.0" r="4.5" fill="#c80032"/><circle cy="233.0" r="4.5" fill="#c80032"/><circle cy="428.1" r="4.5"/><circle cy="145.7" r="4.5"/><circle cy="167.6" r="4.5"/><circle cy="175.7" r="4.5"/><circle cy="192.2" r="4.5"/><circle cy="202.4" r="4.5"/><circle cy="220.2" r="4.5"/><circle cy="446.4" r="4.5" fill="#c80032"/><circle cy="460.6" r="4.5" fill="#c80032"/><circle cy="467.5" r="4.5" fill="#c80032"/><circle cy="478.9" r="4.5" fill="#c80032"/><circle cy="393.8" r="4.5" fill="#c80032"/><circle cy="401.4" r="4.5" fill="#c80032"/><circle cy="422.5" r="4.5" fill="#c80032"/><circle cy="183.3" r="4.5" fill="#c80032"/><circle cy="213.0" r="4.5" fill="#c80032"/></g>
<g transform="translate(289.1)"><circle cy="317.3" r="4.5"/><circle cy="251.5" r="4.5"/><circle cy="312.7" r="4.5"/><circle cy="295.2" r="4.5"/><circle cy="256.5" r="4.5"/><circle cy="316.9" r="4.5"/><circle cy="257.9" r="4.5" fill="#c80032"/><circle cy="267.1" r="4.5" fill="#c80032"/><circle cy="270.7" r="4.5" fill="#c80032"/><circle cy="287.3" r="4.5" fill="#c80032"/><circle cy="294.3" r="4.5" fill="#c80032"/><circle cy="381.2" r="4.5" fill="#c80032"/><circle cy="289.9" r="4.5"/><circle cy="264.2" r="4.5"/><circle cy="260.4" r="4.5"/><circle cy="344.9" r="4.5" fill="#c80032"/><circle cy="301.5" r="4.5" fill="#c80032"/><circle cy="364.2" r="4.5"/><circle cy="359.4" r="4.5" fill="#c80032"/><circle cy="374.2" r="4.5" fill="#c80032"/><circle cy="330.4" r="4.5" fill="#c80032"/><circle cy="251.6" r="4.5"/><circle cy="385.8" r="4.5" fill="#c80032"/><circle cy="315.9" r="4.5" fill="#c80032"/><circle cy="278.4" r="4.5" fill="#c80032"/><circle cy="451.0" r="4.5"/><circle cy="409.0" r="4.5"/><circle cy="169.4" r="4.5"/><circle cy="184.1" r="4.5"/><circle cy="202.4" r="4.5"/><circle cy="210.0" r="4.5"/><circle cy="216.3" r="4.5"/><circle cy="437.7" r="4.5" fill="#c80032"/><circle cy="453.5" r="4.5" fill="#c80032"/><circle cy="413.4" r="4.5" fill="#c80032"/><circle cy="193.5" r="4.5" fill="#c80032"/><circle cy="226.5" r="4.5" fill="#c80032"/><circle cy="241.7" r="4.5" fill="#c80032"/></g>
<g transform="translate(299.6)"><circle cy="356.3" r="4.5"/><circle cy="323.7" r="4.5"/><circle cy="312.2" r="4.5"/><circle cy="343.2" r="4.5"/><circle cy="296.4" r="4.5"/><circle cy="313.6" r="4.5" fill="#c80032"/><circle cy="282.3" r="4.5"/><circle cy="313.4" r="4.5"/><circle cy="343.5" r="4.5" fill="#c80032"/><circle cy="385.3" r="4.5" fill="#c80032"/><circle cy="403.3" r="4.5"/><circle cy="371.8" r="4.5" fill="#c80032"/><circle cy="357.3" r="4.5" fill="#c80032"/><circle cy="266.8" r="4.5" fill="#c80032"/><circle cy="428.2" r="4.5"/><circle cy="327.4" r="4.5" fill="#c80032"/><circle cy="298.9" r="4.5" fill="#c80032"/><circle cy="435.2" r="4.5"/><circle cy="484.5" r="4.5"/><circle cy="173.2" r="4.5"/><circle cy="177.5" r="4.5"/><circle cy="194.8" r="4.5"/><circle cy="218.9" r="4.5"/><circle cy="233.6" r="4.5"/><circle cy="447.7" r="4.5" fill="#c80032"/><circle cy="459.1" r="4.5" fill="#c80032"/><circle cy="390.0" r="4.5" fill="#c80032"/><circle cy="420.5" r="4.5" fill="#c80032"/><circle cy="245.6" r="4.5" fill="#c80032"/><circle cy="255.7" r="4.5" fill="#c80032"/></g>
<g transform="translate(310.0)"><circle cy="309.8" r="4.5"/><circle cy="304.8" r="4.5"/><circle cy="338.3" r="4.5"/><circle cy="299.3" r="4.5"/><circle cy="279.2" r="4.5"/><circle cy="301.5" r="4.5" fill="#c80032"/><circle cy="306.8" r="4.5" fill="#c80032"/><circle cy="300.0" r="4.5"/><circle cy="292.4" r="4.5"/><circle cy="381.8" r="4.5"/><circle cy="287.9" r="4.5" fill="#c80032"/><circle cy="335.7" r="4.5" fill="#c80032"/><circle cy="368.2" r="4.5" fill="#c80032"/><circle cy="322.0" r="4.5" fill="#c80032"/><circle cy="354.3" r="4.5"/><circle cy="273.3" r="4.5" fill="#c80032"/><circle cy="303.1" r="4.5" fill="#c80032"/><circle cy="432.7" r="4.5"/><circle cy="174.4" r="4.5"/><circle cy="180.0" r="4.5"/><circle cy="199.1" r="4.5"/><circle cy="205.4" r="4.5"/><circle cy="213.8" r="4.5"/><circle cy="224.5" r="4.5"/><circle cy="235.4" r="4.5"/><circle cy="241.7" r="4.5"/><circle cy="247.3" r="4.5"/><circle cy="486.5" r="4.5" fill="#c80032"/><circle cy="405.7" r="4.5" fill="#c80032"/><circle cy="421.7" r="4.5" fill="#c80032"/><circle cy="427.6" r="4.5" fill="#c80032"/><circle cy="262.1" r="4.5" fill="#c80032"/></g>
<circle cx="362.1" cy="118.8" r="4.5"/><circle cx="435.1" cy="121.1" r="4.5"/><circle cx="476.8" cy="121.3" r="4.5"/><circle cx="487.2" cy="132.3" r="4.5"/><circle cx="529.0" cy="131.7" r="4.5"/><circle cx="383.0" cy="136.6" r="4.5"/><circle cx="414.3" cy="138.1" r="4.5"/><circle cx="414.3" cy="141.9" r="4.5"/><circle cx="435.1" cy="140.6" r="4.5"/><circle cx="445.5" cy="136.8" r="4.5"/><circle cx="497.7" cy="141.4" r="4.5"/><circle cx="539.4" cy="138.9" r="4.5"/><circle cx="330.8" cy="152.8" r="4.5"/><circle cx="341.3" cy="154.3" r="4.5"/><circle cx="362.1" cy="149.8" r="4.5"/><circle cx="372.5" cy="145.7" r="4.5"/><circle cx="372.5" cy="149.0" r="4.5"/><circle cx="393.4" cy="145.7" r="4.5"/><circle cx="403.8" cy="148.0" r="4.5"/><circle cx="445.5" cy="150.3" r="4.5"/><circle cx="518.5" cy="153.6" r="4.5"/><circle cx="341.3" cy="160.7" r="4.5"/><circle cx="351.7" cy="164.0" r="4.5"/><circle cx="362.1" cy="160.7" r="4.5"/><circle cx="383.0" cy="155.4" r="4.5"/><circle cx="383.0" cy="160.2" r="4.5"/><circle cx="414.3" cy="162.7" r="4.5"/><circle cx="476.8" cy="164.0" r="4.5"/><circle cx="508.1" cy="158.9" r="4.5"/><circle cx="330.8" cy="170.6" r="4.5"/><circle cx="341.3" cy="173.7" r="4.5"/><circle cx="383.0" cy="168.6" r="4.5"/><circle cx="393.4" cy="171.4" r="4.5"/><circle cx="435.1" cy="171.4" r="4.5"/><circle cx="466.4" cy="174.9" r="4.5"/><circle cx="476.8" cy="175.4" r="4.5"/><circle cx="508.1" cy="169.1" r="4.5"/><circle cx="529.0" cy="168.1" r="4.5"/><circle cx="518.5" cy="175.4" r="4.5"/><circle cx="330.8" cy="181.8" r="4.5"/><circle cx="341.3" cy="177.5" r="4.5"/><circle cx="341.3" cy="180.8" r="4.5"/><circle cx="341.3" cy="183.8" r="4.5"/><circle cx="383.0" cy="177.0" r="4.5"/><circle cx="393.4" cy="181.8" r="4.5"/><circle cx="403.8" cy="178.0" r="4.5"/><circle cx="414.3" cy="183.8" r="4.5"/><circle cx="424.7" cy="180.8" r="4.5"/><circle cx="424.7" cy="185.1" r="4.5"/><circle cx="424.7" cy="188.9" r="4.5"/><circle cx="476.8" cy="181.3" r="4.5"/><circle cx="508.1" cy="186.3" r="4.5"/><circle cx="508.1" cy="190.2" r="4.5"/><circle cx="320.4" cy="192.7" r="4.5"/><circle cx="341.3" cy="190.7" r="4.5"/><circle cx="351.7" cy="190.9" r="4.5"/><circle cx="351.7" cy="196.0" r="4.5"/><circle cx="372.5" cy="187.6" r="4.5"/><circle cx="393.4" cy="191.9" r="4.5"/><circle cx="403.8" cy="191.4" r="4.5"/><circle cx="403.8" cy="196.5" r="4.5"/><circle cx="393.4" cy="197.8" r="4.5"/><circle cx="414.3" cy="200.8" r="4.5"/><circle cx="372.5" cy="197.8" r="4.5"/><circle cx="351.7" cy="201.6" r="4.5"/><circle cx="362.1" cy="203.6" r="4.5"/><circle cx="372.5" cy="205.1" r="4.5"/><circle cx="393.4" cy="207.4" r="4.5"/><circle cx="403.8" cy="201.6" r="4.5"/><circle cx="435.1" cy="202.9" r="4.5"/><circle cx="435.1" cy="205.9" r="4.5"/><circle cx="466.4" cy="214.3" r="4.5"/><circle cx="466.4" cy="217.3" r="4.5"/><circle cx="508.1" cy="210.5" r="4.5"/><circle cx="529.0" cy="216.3" r="4.5"/><circle cx="320.4" cy="209.2" r="4.5"/><circle cx="330.8" cy="216.3" r="4.5"/><circle cx="341.3" cy="211.7" r="4.5"/><circle cx="341.3" cy="218.1" r="4.5"/><circle cx="362.1" cy="215.6" r="4.5"/><circle cx="362.1" cy="221.9" r="4.5"/><circle cx="383.0" cy="214.8" r="4.5"/><circle cx="393.4" cy="221.1" r="4.5"/><circle cx="403.8" cy="225.5" r="4.5"/><circle cx="539.4" cy="223.9" r="4.5"/><circle cx="320.4" cy="224.4" r="4.5"/><circle cx="341.3" cy="227.0" r="4.5"/><circle cx="372.5" cy="231.3" r="4.5"/><circle cx="372.5" cy="234.6" r="4.5"/><circle cx="424.7" cy="232.6" r="4.5"/><circle cx="466.4" cy="237.4" r="4.5"/><circle cx="341.3" cy="238.4" r="4.5"/><circle cx="362.1" cy="246.0" r="4.5"/><circle cx="383.0" cy="242.2" r="4.5"/><circle cx="403.8" cy="243.0" r="4.5"/><circle cx="351.7" cy="251.6" r="4.5"/><circle cx="403.8" cy="258.7" r="4.5"/><circle cx="341.3" cy="251.3" r="4.5"/><circle cx="403.8" cy="261.4" r="4.5"/><circle cx="456.0" cy="264.5" r="4.5"/><circle cx="362.1" cy="262.7" r="4.5"/><circle cx="393.4" cy="269.6" r="4.5"/><circle cx="362.1" cy="275.4" r="4.5"/><circle cx="362.1" cy="297.0" r="4.5"/><circle cx="445.5" cy="290.1" r="4.5"/><circle cx="466.4" cy="289.4" r="4.5"/><circle cx="508.1" cy="287.6" r="4.5"/><circle cx="497.7" cy="296.5" r="4.5"/><circle cx="414.3" cy="294.4" r="4.5"/><circle cx="466.4" cy="305.4" r="4.5"/><circle cx="445.5" cy="309.7" r="4.5"/><circle cx="341.3" cy="303.3" r="4.5"/><circle cx="341.3" cy="307.9" r="4.5"/><circle cx="393.4" cy="303.8" r="4.5"/><circle cx="393.4" cy="309.7" r="4.5"/><circle cx="330.8" cy="314.8" r="4.5"/><circle cx="330.8" cy="318.6" r="4.5"/><circle cx="341.3" cy="318.6" r="4.5"/><circle cx="476.8" cy="328.0" r="4.5"/><circle cx="414.3" cy="331.3" r="4.5"/><circle cx="424.7" cy="339.7" r="4.5"/><circle cx="330.8" cy="337.6" r="4.5"/><circle cx="330.8" cy="345.2" r="4.5"/><circle cx="351.7" cy="350.8" r="4.5"/><circle cx="383.0" cy="351.1" r="4.5"/><circle cx="466.4" cy="352.9" r="4.5"/><circle cx="341.3" cy="375.2" r="4.5"/><circle cx="320.4" cy="383.3" r="4.5"/><circle cx="320.4" cy="389.7" r="4.5"/><circle cx="341.3" cy="388.4" r="4.5"/><circle cx="362.1" cy="382.6" r="4.5"/><circle cx="435.1" cy="407.5" r="4.5"/><circle cx="351.7" cy="419.8" r="4.5"/><circle cx="747.9" cy="122.9" r="4.5"/><circle cx="570.7" cy="144.7" r="4.5"/><circle cx="601.9" cy="149.8" r="4.5"/><circle cx="685.4" cy="146.5" r="4.5"/><circle cx="570.7" cy="191.7" r="4.5"/><circle cx="591.5" cy="205.7" r="4.5"/><circle cx="581.1" cy="232.8" r="4.5"/><circle cx="654.1" cy="384.6" r="4.5"/><circle cx="320.4" cy="392.5" r="4.5"/><circle cx="122.3" cy="272.2" r="4.5"/><circle cx="320.4" cy="216.3" r="4.5"/><circle cx="320.4" cy="254.4" r="4.5"/><circle cx="383.0" cy="194.5" r="4.5" fill="#c80032"/><circle cx="383.0" cy="204.9" r="4.5" fill="#c80032"/><circle cx="341.3" cy="206.7" r="4.5" fill="#c80032"/><circle cx="476.8" cy="206.2" r="4.5" fill="#c80032"/><circle cx="456.0" cy="212.0" r="4.5" fill="#c80032"/><circle cx="518.5" cy="217.1" r="4.5" fill="#c80032"/><circle cx="560.2" cy="211.0" r="4.5" fill="#c80032"/><circle cx="414.3" cy="224.4" r="4.5" fill="#c80032"/><circle cx="320.4" cy="232.1" r="4.5" fill="#c80032"/><circle cx="330.8" cy="229.0" r="4.5" fill="#c80032"/><circle cx="341.3" cy="232.1" r="4.5" fill="#c80032"/><circle cx="362.1" cy="229.5" r="4.5" fill="#c80032"/><circle cx="362.1" cy="234.6" r="4.5" fill="#c80032"/><circle cx="330.8" cy="241.0" r="4.5" fill="#c80032"/><circle cx="341.3" cy="245.3" r="4.5" fill="#c80032"/><circle cx="362.1" cy="239.7" r="4.5" fill="#c80032"/><circle cx="383.0" cy="247.3" r="4.5" fill="#c80032"/><circle cx="330.8" cy="249.8" r="4.5" fill="#c80032"/><circle cx="435.1" cy="251.6" r="4.5" fill="#c80032"/><circle cx="445.5" cy="248.1" r="4.5" fill="#c80032"/><circle cx="508.1" cy="242.5" r="4.5" fill="#c80032"/><circle cx="487.2" cy="253.1" r="4.5" fill="#c80032"/><circle cx="320.4" cy="253.7" r="4.5" fill="#c80032"/><circle cx="383.0" cy="255.4" r="4.5" fill="#c80032"/><circle cx="414.3" cy="255.4" r="4.5" fill="#c80032"/><circle cx="445.5" cy="259.5" r="4.5" fill="#c80032"/><circle cx="403.8" cy="258.9" r="4.5" fill="#c80032"/><circle cx="445.5" cy="266.5" r="4.5" fill="#c80032"/><circle cx="456.0" cy="270.8" r="4.5" fill="#c80032"/><circle cx="529.0" cy="268.3" r="4.5" fill="#c80032"/><circle cx="330.8" cy="260.2" r="4.5" fill="#c80032"/><circle cx="330.8" cy="265.2" r="4.5" fill="#c80032"/><circle cx="320.4" cy="265.2" r="4.5" fill="#c80032"/><circle cx="341.3" cy="269.0" r="4.5" fill="#c80032"/><circle cx="362.1" cy="270.3" r="4.5" fill="#c80032"/><circle cx="372.5" cy="266.5" r="4.5" fill="#c80032"/><circle cx="372.5" cy="269.8" r="4.5" fill="#c80032"/><circle cx="383.0" cy="264.0" r="4.5" fill="#c80032"/><circle cx="383.0" cy="274.1" r="4.5" fill="#c80032"/><circle cx="341.3" cy="277.9" r="4.5" fill="#c80032"/><circle cx="330.8" cy="275.4" r="4.5" fill="#c80032"/><circle cx="320.4" cy="272.9" r="4.5" fill="#c80032"/><circle cx="320.4" cy="280.5" r="4.5" fill="#c80032"/><circle cx="351.7" cy="282.3" r="4.5" fill="#c80032"/><circle cx="362.1" cy="284.3" r="4.5" fill="#c80032"/><circle cx="383.0" cy="281.2" r="4.5" fill="#c80032"/><circle cx="330.8" cy="285.6" r="4.5" fill="#c80032"/><circle cx="330.8" cy="291.9" r="4.5" fill="#c80032"/><circle cx="320.4" cy="291.9" r="4.5" fill="#c80032"/><circle cx="351.7" cy="292.4" r="4.5" fill="#c80032"/><circle cx="362.1" cy="290.1" r="4.5" fill="#c80032"/><circle cx="372.5" cy="294.4" r="4.5" fill="#c80032"/><circle cx="383.0" cy="292.4" r="4.5" fill="#c80032"/><circle cx="403.8" cy="287.3" r="4.5" fill="#c80032"/><circle cx="414.3" cy="286.3" r="4.5" fill="#c80032"/><circle cx="424.7" cy="282.8" r="4.5" fill="#c80032"/><circle cx="435.1" cy="288.1" r="4.5" fill="#c80032"/><circle cx="456.0" cy="283.0" r="4.5" fill="#c80032"/><circle cx="466.4" cy="290.6" r="4.5" fill="#c80032"/><circle cx="476.8" cy="293.4" r="4.5" fill="#c80032"/><circle cx="487.2" cy="278.2" r="4.5" fill="#c80032"/><circle cx="560.2" cy="284.3" r="4.5" fill="#c80032"/><circle cx="445.5" cy="297.2" r="4.5" fill="#c80032"/><circle cx="456.0" cy="300.8" r="4.5" fill="#c80032"/><circle cx="341.3" cy="298.3" r="4.5" fill="#c80032"/><circle cx="330.8" cy="307.9" r="4.5" fill="#c80032"/><circle cx="362.1" cy="307.1" r="4.5" fill="#c80032"/><circle cx="403.8" cy="307.4" r="4.5" fill="#c80032"/><circle cx="320.4" cy="317.3" r="4.5" fill="#c80032"/><circle cx="341.3" cy="327.5" r="4.5" fill="#c80032"/><circle cx="508.1" cy="320.3" r="4.5" fill="#c80032"/><circle cx="549.8" cy="330.5" r="4.5" fill="#c80032"/><circle cx="372.5" cy="332.0" r="4.5" fill="#c80032"/><circle cx="435.1" cy="337.1" r="4.5" fill="#c80032"/><circle cx="341.3" cy="338.9" r="4.5" fill="#c80032"/><circle cx="341.3" cy="343.5" r="4.5" fill="#c80032"/><circle cx="351.7" cy="345.7" r="4.5" fill="#c80032"/><circle cx="393.4" cy="343.0" r="4.5" fill="#c80032"/><circle cx="435.1" cy="350.6" r="4.5" fill="#c80032"/><circle cx="497.7" cy="350.3" r="4.5" fill="#c80032"/><circle cx="320.4" cy="351.6" r="4.5" fill="#c80032"/><circle cx="330.8" cy="349.0" r="4.5" fill="#c80032"/><circle cx="341.3" cy="350.3" r="4.5" fill="#c80032"/><circle cx="330.8" cy="361.0" r="4.5" fill="#c80032"/><circle cx="341.3" cy="361.7" r="4.5" fill="#c80032"/><circle cx="351.7" cy="359.2" r="4.5" fill="#c80032"/><circle cx="362.1" cy="361.2" r="4.5" fill="#c80032"/><circle cx="372.5" cy="361.2" r="4.5" fill="#c80032"/><circle cx="403.8" cy="358.7" r="4.5" fill="#c80032"/><circle cx="445.5" cy="359.2" r="4.5" fill="#c80032"/><circle cx="424.7" cy="367.1" r="4.5" fill="#c80032"/><circle cx="393.4" cy="371.4" r="4.5" fill="#c80032"/><circle cx="341.3" cy="368.1" r="4.5" fill="#c80032"/><circle cx="330.8" cy="373.2" r="4.5" fill="#c80032"/><circle cx="351.7" cy="374.4" r="4.5" fill="#c80032"/><circle cx="372.5" cy="377.7" r="4.5" fill="#c80032"/><circle cx="539.4" cy="375.2" r="4.5" fill="#c80032"/><circle cx="508.1" cy="382.3" r="4.5" fill="#c80032"/><circle cx="320.4" cy="397.3" r="4.5" fill="#c80032"/><circle cx="341.3" cy="392.7" r="4.5" fill="#c80032"/><circle cx="351.7" cy="392.2" r="4.5" fill="#c80032"/><circle cx="362.1" cy="386.4" r="4.5" fill="#c80032"/><circle cx="372.5" cy="395.3" r="4.5" fill="#c80032"/><circle cx="351.7" cy="399.8" r="4.5" fill="#c80032"/><circle cx="351.7" cy="403.1" r="4.5" fill="#c80032"/><circle cx="372.5" cy="402.4" r="4.5" fill="#c80032"/><circle cx="435.1" cy="388.9" r="4.5" fill="#c80032"/><circle cx="445.5" cy="388.9" r="4.5" fill="#c80032"/><circle cx="487.2" cy="395.8" r="4.5" fill="#c80032"/><circle cx="466.4" cy="402.9" r="4.5" fill="#c80032"/><circle cx="320.4" cy="414.0" r="4.5" fill="#c80032"/><circle cx="320.4" cy="420.8" r="4.5" fill="#c80032"/><circle cx="330.8" cy="418.0" r="4.5" fill="#c80032"/><circle cx="351.7" cy="415.2" r="4.5" fill="#c80032"/><circle cx="372.5" cy="415.7" r="4.5" fill="#c80032"/><circle cx="383.0" cy="414.5" r="4.5" fill="#c80032"/><circle cx="466.4" cy="413.5" r="4.5" fill="#c80032"/><circle cx="529.0" cy="425.4" r="4.5" fill="#c80032"/><circle cx="320.4" cy="439.9" r="4.5" fill="#c80032"/><circle cx="362.1" cy="435.8" r="4.5" fill="#c80032"/><circle cx="403.8" cy="447.0" r="4.5" fill="#c80032"/><circle cx="539.4" cy="452.1" r="4.5" fill="#c80032"/><circle cx="330.8" cy="460.4" r="4.5" fill="#c80032"/><circle cx="351.7" cy="461.0" r="4.5" fill="#c80032"/><circle cx="351.7" cy="469.1" r="4.5" fill="#c80032"/><circle cx="351.7" cy="474.9" r="4.5" fill="#c80032"/><circle cx="372.5" cy="474.4" r="4.5" fill="#c80032"/><circle cx="435.1" cy="492.4" r="4.5" fill="#c80032"/><circle cx="633.2" cy="201.1" r="4.5" fill="#c80032"/><circle cx="601.9" cy="246.5" r="4.5" fill="#c80032"/><circle cx="622.8" cy="260.9" r="4.5" fill="#c80032"/><circle cx="643.6" cy="261.9" r="4.5" fill="#c80032"/><circle cx="664.5" cy="284.0" r="4.5" fill="#c80032"/><circle cx="643.6" cy="309.2" r="4.5" fill="#c80032"/><circle cx="664.5" cy="309.2" r="4.5" fill="#c80032"/><circle cx="612.4" cy="439.4" r="4.5" fill="#c80032"/><circle cx="601.9" cy="473.4" r="4.5" fill="#c80032"/><circle cx="122.3" cy="453.0" r="4.5" fill="#c80032"/><circle cx="122.3" cy="268.4" r="4.5" fill="#c80032"/><circle cx="122.3" cy="332.0" r="4.5" fill="#c80032"/>
</g>
<path d="M87.5 295.1 L782.6 214.1" stroke="#1f9ae0" stroke-width="1.55" fill="none"/><path d="M121.6 285.5 L137.3 284.1 L152.9 282.7 L168.6 281.1 L184.3 279.5 L200.0 277.8 L215.6 276.0 L231.3 274.0 L247.0 272.0 L262.7 269.8 L278.3 267.6 L294.0 265.3 L309.7 263.0 L325.3 260.6 L341.0 258.3 L356.7 255.8 L372.4 253.4 L388.0 251.0 L403.7 248.5 L419.4 246.1 L435.0 243.6 L450.7 241.1 L466.4 238.6 L482.1 236.1 L497.7 233.7 L513.4 231.2 L529.1 228.7 L544.8 226.2 L560.4 223.7 L576.1 221.2 L591.8 218.7 L607.4 216.2 L623.1 213.6 L638.8 211.1 L654.5 208.6 L670.1 206.1 L685.8 203.6 L701.5 201.1 L717.2 198.6 L732.8 196.1 L748.5 193.6" stroke="#1f9ae0" stroke-width="1.55" fill="none"/><path d="M121.6 296.7 L137.3 294.4 L152.9 292.2 L168.6 290.1 L184.3 288.0 L200.0 286.1 L215.6 284.3 L231.3 282.6 L247.0 281.0 L262.7 279.5 L278.3 278.1 L294.0 276.7 L309.7 275.4 L325.3 274.1 L341.0 272.8 L356.7 271.6 L372.4 270.3 L388.0 269.1 L403.7 267.9 L419.4 266.8 L435.0 265.6 L450.7 264.4 L466.4 263.2 L482.1 262.1 L497.7 260.9 L513.4 259.7 L529.1 258.6 L544.8 257.4 L560.4 256.3 L576.1 255.1 L591.8 254.0 L607.4 252.8 L623.1 251.7 L638.8 250.6 L654.5 249.4 L670.1 248.3 L685.8 247.1 L701.5 246.0 L717.2 244.9 L732.8 243.7 L748.5 242.6" stroke="#1f9ae0" stroke-width="1.55" fill="none"/><path d="M87.5 319.8 L782.6 380.3" stroke="#cc0a3c" stroke-width="1.55" fill="none"/><path d="M121.6 316.0 L137.3 318.0 L152.9 319.9 L168.6 321.7 L184.3 323.5 L200.0 325.3 L215.6 326.9 L231.3 328.3 L247.0 329.7 L262.7 330.8 L278.3 331.9 L294.0 332.9 L309.7 333.8 L325.3 334.6 L341.0 335.4 L356.7 336.1 L372.4 336.8 L388.0 337.5 L403.7 338.2 L419.4 338.9 L435.0 339.6 L450.7 340.2 L466.4 340.9 L482.1 341.5 L497.7 342.1 L513.4 342.8 L529.1 343.4 L544.8 344.0 L560.4 344.7 L576.1 345.3 L591.8 345.9 L607.4 346.5 L623.1 347.2 L638.8 347.8 L654.5 348.4 L670.1 349.0 L685.8 349.6 L701.5 350.3 L717.2 350.9 L732.8 351.5 L748.5 352.1" stroke="#cc0a3c" stroke-width="1.55" fill="none"/><path d="M121.6 329.6 L137.3 330.4 L152.9 331.2 L168.6 332.0 L184.3 332.9 L200.0 334.0 L215.6 335.1 L231.3 336.3 L247.0 337.7 L262.7 339.3 L278.3 340.9 L294.0 342.7 L309.7 344.5 L325.3 346.4 L341.0 348.4 L356.7 350.4 L372.4 352.4 L388.0 354.4 L403.7 356.4 L419.4 358.5 L435.0 360.5 L450.7 362.6 L466.4 364.7 L482.1 366.8 L497.7 368.8 L513.4 370.9 L529.1 373.0 L544.8 375.1 L560.4 377.2 L576.1 379.3 L591.8 381.4 L607.4 383.5 L623.1 385.6 L638.8 387.7 L654.5 389.9 L670.1 392.0 L685.8 394.1 L701.5 396.2 L717.2 398.3 L732.8 400.4 L748.5 402.5" stroke="#cc0a3c" stroke-width="1.55" fill="none"/>
<rect x="87" y="0" width="1.1" height="562" fill="#000"/>
<rect x="87" y="559.3" width="695.5" height="4.4" fill="#000"/>
<g class="b" font-size="28.2" font-weight="bold" text-anchor="middle"><text x="865" y="32.2">Dog</text><text x="865" y="61">Ownership</text></g>
<circle cx="799.9" cy="91.2" r="12.55" fill="#4d96e2" stroke="#000" stroke-width="1.6"/>
<circle cx="799.9" cy="124.3" r="12.55" fill="#c80032" stroke="#000" stroke-width="1.6"/>
<path d="M866 81.6L898.2 100.9" stroke="#1f9ae0" stroke-width="1.55"/>
<path d="M866 114.7L898.2 134" stroke="#cc0a3c" stroke-width="1.55"/>
<g font-size="28"><text x="820.6" y="101.4">No</text><text x="822.8" y="134.7">Yes</text><text x="902.3" y="101.4">No</text><text x="906" y="134.7">Yes</text></g>
</svg>
</body></html>
